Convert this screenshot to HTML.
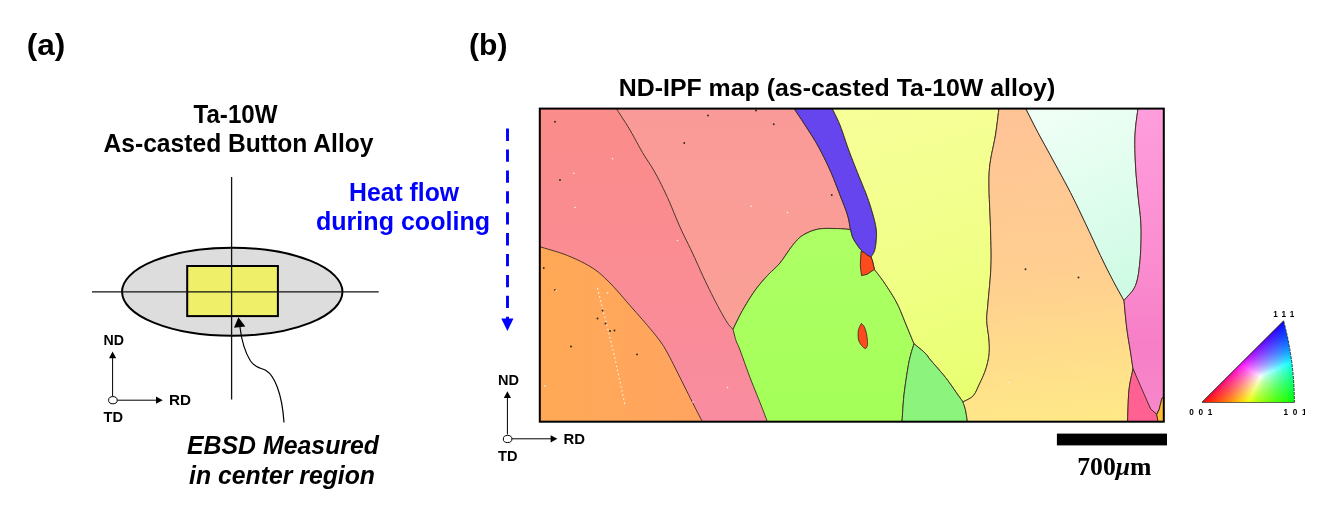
<!DOCTYPE html>
<html lang="en">
<head>
<meta charset="utf-8">
<title>Ta-10W as-casted button alloy EBSD figure</title>
<style>
html,body{margin:0;padding:0;background:#fff;}
body{width:1333px;height:512px;overflow:hidden;}
svg{display:block;}
text{font-family:"Liberation Sans",Arial,sans-serif;font-weight:bold;fill:#000;}
.ser{font-family:"Liberation Serif","DejaVu Serif",serif;}
</style>
</head>
<body>
<svg width="1333" height="512" viewBox="0 0 1333 512">
<defs>
<clipPath id="mapclip"><rect x="539.8" y="108.6" width="624" height="313.1"/></clipPath>
<linearGradient id="gP1" gradientUnits="userSpaceOnUse" x1="0" y1="108" x2="0" y2="422"><stop offset="0" stop-color="#FA8C8A"/><stop offset="0.45" stop-color="#FA8C92"/><stop offset="1" stop-color="#F98CA0"/></linearGradient>
<linearGradient id="gP2" gradientUnits="userSpaceOnUse" x1="0" y1="108" x2="0" y2="330"><stop offset="0" stop-color="#FA9A98"/><stop offset="1" stop-color="#FAA096"/></linearGradient>
<linearGradient id="gG1" gradientUnits="userSpaceOnUse" x1="0" y1="228" x2="0" y2="422"><stop offset="0" stop-color="#AEFF66"/><stop offset="1" stop-color="#A4FF58"/></linearGradient>
<linearGradient id="gO1" x1="0" y1="0" x2="1" y2="0"><stop offset="0" stop-color="#FFA956"/><stop offset="1" stop-color="#FFA460"/></linearGradient>
<linearGradient id="gY" gradientUnits="userSpaceOnUse" x1="880" y1="110" x2="960" y2="400"><stop offset="0" stop-color="#F6FF98"/><stop offset="0.5" stop-color="#F1FF88"/><stop offset="1" stop-color="#E8FF70"/></linearGradient>
<linearGradient id="gO2" gradientUnits="userSpaceOnUse" x1="1030" y1="120" x2="1060" y2="420"><stop offset="0" stop-color="#FFC496"/><stop offset="0.5" stop-color="#FFCE90"/><stop offset="1" stop-color="#FFE888"/></linearGradient>
<linearGradient id="gPA" gradientUnits="userSpaceOnUse" x1="1050" y1="110" x2="1130" y2="290"><stop offset="0" stop-color="#F0FFF6"/><stop offset="1" stop-color="#CEFBE4"/></linearGradient>
<linearGradient id="gK" gradientUnits="userSpaceOnUse" x1="0" y1="108" x2="0" y2="422"><stop offset="0" stop-color="#FF9EDC"/><stop offset="0.5" stop-color="#FB8CD0"/><stop offset="0.75" stop-color="#F67EC6"/><stop offset="1" stop-color="#F888CC"/></linearGradient>
<clipPath id="triclip"><path d="M1202,402.6 L1283.62,320.9 A315.4,315.4 0 0 1 1294.37,402.6 Z"/></clipPath>
<clipPath id="lblclip"><rect x="1180" y="300" width="125" height="130"/></clipPath>
<linearGradient id="q0" gradientUnits="userSpaceOnUse" x1="1282.8" y1="0" x2="1283.8" y2="0"><stop offset="0.00" stop-color="#0600ff"/><stop offset="0.08" stop-color="#0601ff"/><stop offset="0.17" stop-color="#0602ff"/><stop offset="0.25" stop-color="#0502ff"/><stop offset="0.33" stop-color="#0503ff"/><stop offset="0.42" stop-color="#0403ff"/><stop offset="0.50" stop-color="#0404ff"/><stop offset="0.58" stop-color="#0304ff"/><stop offset="0.67" stop-color="#0305ff"/><stop offset="0.75" stop-color="#0205ff"/><stop offset="0.83" stop-color="#0206ff"/><stop offset="0.92" stop-color="#0106ff"/><stop offset="1.00" stop-color="#0007ff"/></linearGradient>
<linearGradient id="q1" gradientUnits="userSpaceOnUse" x1="1281.8" y1="0" x2="1284.1" y2="0"><stop offset="0.00" stop-color="#0c00ff"/><stop offset="0.08" stop-color="#0c02ff"/><stop offset="0.17" stop-color="#0b03ff"/><stop offset="0.25" stop-color="#0a04ff"/><stop offset="0.33" stop-color="#0905ff"/><stop offset="0.42" stop-color="#0806ff"/><stop offset="0.50" stop-color="#0707ff"/><stop offset="0.58" stop-color="#0608ff"/><stop offset="0.67" stop-color="#0509ff"/><stop offset="0.75" stop-color="#040aff"/><stop offset="0.83" stop-color="#030bff"/><stop offset="0.92" stop-color="#020cff"/><stop offset="1.00" stop-color="#000dff"/></linearGradient>
<linearGradient id="q2" gradientUnits="userSpaceOnUse" x1="1280.8" y1="0" x2="1284.4" y2="0"><stop offset="0.00" stop-color="#1200ff"/><stop offset="0.08" stop-color="#1002ff"/><stop offset="0.17" stop-color="#0f04ff"/><stop offset="0.25" stop-color="#0e06ff"/><stop offset="0.33" stop-color="#0d08ff"/><stop offset="0.42" stop-color="#0c09ff"/><stop offset="0.50" stop-color="#0a0aff"/><stop offset="0.58" stop-color="#090cff"/><stop offset="0.67" stop-color="#070dff"/><stop offset="0.75" stop-color="#060eff"/><stop offset="0.83" stop-color="#0410ff"/><stop offset="0.92" stop-color="#0211ff"/><stop offset="1.00" stop-color="#0012ff"/></linearGradient>
<linearGradient id="q3" gradientUnits="userSpaceOnUse" x1="1279.8" y1="0" x2="1284.6" y2="0"><stop offset="0.00" stop-color="#1700ff"/><stop offset="0.08" stop-color="#1503ff"/><stop offset="0.17" stop-color="#1406ff"/><stop offset="0.25" stop-color="#1208ff"/><stop offset="0.33" stop-color="#100aff"/><stop offset="0.42" stop-color="#0f0cff"/><stop offset="0.50" stop-color="#0d0dff"/><stop offset="0.58" stop-color="#0b0fff"/><stop offset="0.67" stop-color="#0911ff"/><stop offset="0.75" stop-color="#0813ff"/><stop offset="0.83" stop-color="#0514ff"/><stop offset="0.92" stop-color="#0316ff"/><stop offset="1.00" stop-color="#0017ff"/></linearGradient>
<linearGradient id="q4" gradientUnits="userSpaceOnUse" x1="1278.8" y1="0" x2="1284.9" y2="0"><stop offset="0.00" stop-color="#1c00ff"/><stop offset="0.08" stop-color="#1a04ff"/><stop offset="0.17" stop-color="#1807ff"/><stop offset="0.25" stop-color="#1609ff"/><stop offset="0.33" stop-color="#140cff"/><stop offset="0.42" stop-color="#120eff"/><stop offset="0.50" stop-color="#1010ff"/><stop offset="0.58" stop-color="#0e13ff"/><stop offset="0.67" stop-color="#0c15ff"/><stop offset="0.75" stop-color="#0917ff"/><stop offset="0.83" stop-color="#0719ff"/><stop offset="0.92" stop-color="#041bff"/><stop offset="1.00" stop-color="#001cff"/></linearGradient>
<linearGradient id="q5" gradientUnits="userSpaceOnUse" x1="1277.8" y1="0" x2="1285.1" y2="0"><stop offset="0.00" stop-color="#2000ff"/><stop offset="0.08" stop-color="#1e05ff"/><stop offset="0.17" stop-color="#1c08ff"/><stop offset="0.25" stop-color="#1a0bff"/><stop offset="0.33" stop-color="#170eff"/><stop offset="0.42" stop-color="#1511ff"/><stop offset="0.50" stop-color="#1313ff"/><stop offset="0.58" stop-color="#1016ff"/><stop offset="0.67" stop-color="#0e18ff"/><stop offset="0.75" stop-color="#0b1bff"/><stop offset="0.83" stop-color="#081dff"/><stop offset="0.92" stop-color="#041fff"/><stop offset="1.00" stop-color="#0021ff"/></linearGradient>
<linearGradient id="q6" gradientUnits="userSpaceOnUse" x1="1276.8" y1="0" x2="1285.4" y2="0"><stop offset="0.00" stop-color="#2500ff"/><stop offset="0.08" stop-color="#2305ff"/><stop offset="0.17" stop-color="#2009ff"/><stop offset="0.25" stop-color="#1d0dff"/><stop offset="0.33" stop-color="#1b10ff"/><stop offset="0.42" stop-color="#1813ff"/><stop offset="0.50" stop-color="#1516ff"/><stop offset="0.58" stop-color="#1219ff"/><stop offset="0.67" stop-color="#0f1cff"/><stop offset="0.75" stop-color="#0c1eff"/><stop offset="0.83" stop-color="#0921ff"/><stop offset="0.92" stop-color="#0524ff"/><stop offset="1.00" stop-color="#0026ff"/></linearGradient>
<linearGradient id="q7" gradientUnits="userSpaceOnUse" x1="1275.8" y1="0" x2="1285.6" y2="0"><stop offset="0.00" stop-color="#2a00ff"/><stop offset="0.08" stop-color="#2706ff"/><stop offset="0.17" stop-color="#240aff"/><stop offset="0.25" stop-color="#210eff"/><stop offset="0.33" stop-color="#1e12ff"/><stop offset="0.42" stop-color="#1b15ff"/><stop offset="0.50" stop-color="#1819ff"/><stop offset="0.58" stop-color="#151cff"/><stop offset="0.67" stop-color="#111fff"/><stop offset="0.75" stop-color="#0e22ff"/><stop offset="0.83" stop-color="#0a25ff"/><stop offset="0.92" stop-color="#0628ff"/><stop offset="1.00" stop-color="#002bff"/></linearGradient>
<linearGradient id="q8" gradientUnits="userSpaceOnUse" x1="1274.8" y1="0" x2="1285.9" y2="0"><stop offset="0.00" stop-color="#2e00ff"/><stop offset="0.08" stop-color="#2b07ff"/><stop offset="0.17" stop-color="#280bff"/><stop offset="0.25" stop-color="#2510ff"/><stop offset="0.33" stop-color="#2214ff"/><stop offset="0.42" stop-color="#1e18ff"/><stop offset="0.50" stop-color="#1b1cff"/><stop offset="0.58" stop-color="#171fff"/><stop offset="0.67" stop-color="#1323ff"/><stop offset="0.75" stop-color="#0f26ff"/><stop offset="0.83" stop-color="#0b29ff"/><stop offset="0.92" stop-color="#062dff"/><stop offset="1.00" stop-color="#0030ff"/></linearGradient>
<linearGradient id="q9" gradientUnits="userSpaceOnUse" x1="1273.8" y1="0" x2="1286.1" y2="0"><stop offset="0.00" stop-color="#3300ff"/><stop offset="0.08" stop-color="#3007ff"/><stop offset="0.17" stop-color="#2c0dff"/><stop offset="0.25" stop-color="#2911ff"/><stop offset="0.33" stop-color="#2516ff"/><stop offset="0.42" stop-color="#211aff"/><stop offset="0.50" stop-color="#1d1eff"/><stop offset="0.58" stop-color="#1922ff"/><stop offset="0.67" stop-color="#1526ff"/><stop offset="0.75" stop-color="#112aff"/><stop offset="0.83" stop-color="#0c2eff"/><stop offset="0.92" stop-color="#0731ff"/><stop offset="1.00" stop-color="#0035ff"/></linearGradient>
<linearGradient id="q10" gradientUnits="userSpaceOnUse" x1="1272.8" y1="0" x2="1286.3" y2="0"><stop offset="0.00" stop-color="#3700ff"/><stop offset="0.08" stop-color="#3408ff"/><stop offset="0.17" stop-color="#300eff"/><stop offset="0.25" stop-color="#2c13ff"/><stop offset="0.33" stop-color="#2818ff"/><stop offset="0.42" stop-color="#241dff"/><stop offset="0.50" stop-color="#2021ff"/><stop offset="0.58" stop-color="#1c25ff"/><stop offset="0.67" stop-color="#172aff"/><stop offset="0.75" stop-color="#132eff"/><stop offset="0.83" stop-color="#0d32ff"/><stop offset="0.92" stop-color="#0836ff"/><stop offset="1.00" stop-color="#003aff"/></linearGradient>
<linearGradient id="q11" gradientUnits="userSpaceOnUse" x1="1271.8" y1="0" x2="1286.5" y2="0"><stop offset="0.00" stop-color="#3c00ff"/><stop offset="0.08" stop-color="#3809ff"/><stop offset="0.17" stop-color="#340fff"/><stop offset="0.25" stop-color="#3015ff"/><stop offset="0.33" stop-color="#2c1aff"/><stop offset="0.42" stop-color="#271fff"/><stop offset="0.50" stop-color="#2324ff"/><stop offset="0.58" stop-color="#1e29ff"/><stop offset="0.67" stop-color="#192dff"/><stop offset="0.75" stop-color="#1432ff"/><stop offset="0.83" stop-color="#0f36ff"/><stop offset="0.92" stop-color="#083aff"/><stop offset="1.00" stop-color="#003fff"/></linearGradient>
<linearGradient id="q12" gradientUnits="userSpaceOnUse" x1="1270.8" y1="0" x2="1286.8" y2="0"><stop offset="0.00" stop-color="#4100ff"/><stop offset="0.08" stop-color="#3c09ff"/><stop offset="0.17" stop-color="#3810ff"/><stop offset="0.25" stop-color="#3416ff"/><stop offset="0.33" stop-color="#2f1cff"/><stop offset="0.42" stop-color="#2a21ff"/><stop offset="0.50" stop-color="#2627ff"/><stop offset="0.58" stop-color="#212cff"/><stop offset="0.67" stop-color="#1b31ff"/><stop offset="0.75" stop-color="#1636ff"/><stop offset="0.83" stop-color="#103aff"/><stop offset="0.92" stop-color="#093fff"/><stop offset="1.00" stop-color="#0043ff"/></linearGradient>
<linearGradient id="q13" gradientUnits="userSpaceOnUse" x1="1269.8" y1="0" x2="1287.0" y2="0"><stop offset="0.00" stop-color="#4500ff"/><stop offset="0.08" stop-color="#410aff"/><stop offset="0.17" stop-color="#3c11ff"/><stop offset="0.25" stop-color="#3718ff"/><stop offset="0.33" stop-color="#331eff"/><stop offset="0.42" stop-color="#2e24ff"/><stop offset="0.50" stop-color="#282aff"/><stop offset="0.58" stop-color="#232fff"/><stop offset="0.67" stop-color="#1d34ff"/><stop offset="0.75" stop-color="#1739ff"/><stop offset="0.83" stop-color="#113fff"/><stop offset="0.92" stop-color="#0a43ff"/><stop offset="1.00" stop-color="#0048ff"/></linearGradient>
<linearGradient id="q14" gradientUnits="userSpaceOnUse" x1="1268.8" y1="0" x2="1287.2" y2="0"><stop offset="0.00" stop-color="#4a00ff"/><stop offset="0.08" stop-color="#450bff"/><stop offset="0.17" stop-color="#4012ff"/><stop offset="0.25" stop-color="#3b1aff"/><stop offset="0.33" stop-color="#3620ff"/><stop offset="0.42" stop-color="#3126ff"/><stop offset="0.50" stop-color="#2b2cff"/><stop offset="0.58" stop-color="#2532ff"/><stop offset="0.67" stop-color="#1f38ff"/><stop offset="0.75" stop-color="#193dff"/><stop offset="0.83" stop-color="#1243ff"/><stop offset="0.92" stop-color="#0a48ff"/><stop offset="1.00" stop-color="#004dff"/></linearGradient>
<linearGradient id="q15" gradientUnits="userSpaceOnUse" x1="1267.8" y1="0" x2="1287.4" y2="0"><stop offset="0.00" stop-color="#4f00ff"/><stop offset="0.08" stop-color="#4a0bff"/><stop offset="0.17" stop-color="#4414ff"/><stop offset="0.25" stop-color="#3f1bff"/><stop offset="0.33" stop-color="#3a22ff"/><stop offset="0.42" stop-color="#3429ff"/><stop offset="0.50" stop-color="#2e2fff"/><stop offset="0.58" stop-color="#2836ff"/><stop offset="0.67" stop-color="#213cff"/><stop offset="0.75" stop-color="#1b41ff"/><stop offset="0.83" stop-color="#1347ff"/><stop offset="0.92" stop-color="#0b4dff"/><stop offset="1.00" stop-color="#0052ff"/></linearGradient>
<linearGradient id="q16" gradientUnits="userSpaceOnUse" x1="1266.8" y1="0" x2="1287.6" y2="0"><stop offset="0.00" stop-color="#5400ff"/><stop offset="0.08" stop-color="#4e0cff"/><stop offset="0.17" stop-color="#4915ff"/><stop offset="0.25" stop-color="#431dff"/><stop offset="0.33" stop-color="#3d24ff"/><stop offset="0.42" stop-color="#372bff"/><stop offset="0.50" stop-color="#3132ff"/><stop offset="0.58" stop-color="#2a39ff"/><stop offset="0.67" stop-color="#233fff"/><stop offset="0.75" stop-color="#1c46ff"/><stop offset="0.83" stop-color="#144cff"/><stop offset="0.92" stop-color="#0c52ff"/><stop offset="1.00" stop-color="#0057ff"/></linearGradient>
<linearGradient id="q17" gradientUnits="userSpaceOnUse" x1="1265.8" y1="0" x2="1287.8" y2="0"><stop offset="0.00" stop-color="#5900ff"/><stop offset="0.08" stop-color="#530dff"/><stop offset="0.17" stop-color="#4d16ff"/><stop offset="0.25" stop-color="#471fff"/><stop offset="0.33" stop-color="#4126ff"/><stop offset="0.42" stop-color="#3a2eff"/><stop offset="0.50" stop-color="#3435ff"/><stop offset="0.58" stop-color="#2d3cff"/><stop offset="0.67" stop-color="#2543ff"/><stop offset="0.75" stop-color="#1e4aff"/><stop offset="0.83" stop-color="#1650ff"/><stop offset="0.92" stop-color="#0c56ff"/><stop offset="1.00" stop-color="#005dff"/></linearGradient>
<linearGradient id="q18" gradientUnits="userSpaceOnUse" x1="1264.8" y1="0" x2="1288.1" y2="0"><stop offset="0.00" stop-color="#5d00ff"/><stop offset="0.08" stop-color="#570dff"/><stop offset="0.17" stop-color="#5117ff"/><stop offset="0.25" stop-color="#4b20ff"/><stop offset="0.33" stop-color="#4429ff"/><stop offset="0.42" stop-color="#3e31ff"/><stop offset="0.50" stop-color="#3738ff"/><stop offset="0.58" stop-color="#2f40ff"/><stop offset="0.67" stop-color="#2847ff"/><stop offset="0.75" stop-color="#204eff"/><stop offset="0.83" stop-color="#1755ff"/><stop offset="0.92" stop-color="#0d5bff"/><stop offset="1.00" stop-color="#0062ff"/></linearGradient>
<linearGradient id="q19" gradientUnits="userSpaceOnUse" x1="1263.8" y1="0" x2="1288.3" y2="0"><stop offset="0.00" stop-color="#6200ff"/><stop offset="0.08" stop-color="#5c0eff"/><stop offset="0.17" stop-color="#5619ff"/><stop offset="0.25" stop-color="#4f22ff"/><stop offset="0.33" stop-color="#482bff"/><stop offset="0.42" stop-color="#4133ff"/><stop offset="0.50" stop-color="#393bff"/><stop offset="0.58" stop-color="#3243ff"/><stop offset="0.67" stop-color="#2a4bff"/><stop offset="0.75" stop-color="#2152ff"/><stop offset="0.83" stop-color="#1859ff"/><stop offset="0.92" stop-color="#0e60ff"/><stop offset="1.00" stop-color="#0067ff"/></linearGradient>
<linearGradient id="q20" gradientUnits="userSpaceOnUse" x1="1262.8" y1="0" x2="1288.5" y2="0"><stop offset="0.00" stop-color="#6800ff"/><stop offset="0.08" stop-color="#610fff"/><stop offset="0.17" stop-color="#5a1aff"/><stop offset="0.25" stop-color="#5324ff"/><stop offset="0.33" stop-color="#4c2dff"/><stop offset="0.42" stop-color="#4436ff"/><stop offset="0.50" stop-color="#3c3eff"/><stop offset="0.58" stop-color="#3447ff"/><stop offset="0.67" stop-color="#2c4fff"/><stop offset="0.75" stop-color="#2356ff"/><stop offset="0.83" stop-color="#195eff"/><stop offset="0.92" stop-color="#0f65ff"/><stop offset="1.00" stop-color="#006dff"/></linearGradient>
<linearGradient id="q21" gradientUnits="userSpaceOnUse" x1="1261.8" y1="0" x2="1288.6" y2="0"><stop offset="0.00" stop-color="#6d00ff"/><stop offset="0.08" stop-color="#6610ff"/><stop offset="0.17" stop-color="#5e1bff"/><stop offset="0.25" stop-color="#5726ff"/><stop offset="0.33" stop-color="#502fff"/><stop offset="0.42" stop-color="#4839ff"/><stop offset="0.50" stop-color="#4042ff"/><stop offset="0.58" stop-color="#374aff"/><stop offset="0.67" stop-color="#2e53ff"/><stop offset="0.75" stop-color="#255bff"/><stop offset="0.83" stop-color="#1b63ff"/><stop offset="0.92" stop-color="#0f6bff"/><stop offset="1.00" stop-color="#0072ff"/></linearGradient>
<linearGradient id="q22" gradientUnits="userSpaceOnUse" x1="1260.8" y1="0" x2="1288.8" y2="0"><stop offset="0.00" stop-color="#7200ff"/><stop offset="0.08" stop-color="#6b10ff"/><stop offset="0.17" stop-color="#631dff"/><stop offset="0.25" stop-color="#5b28ff"/><stop offset="0.33" stop-color="#5332ff"/><stop offset="0.42" stop-color="#4b3cff"/><stop offset="0.50" stop-color="#4345ff"/><stop offset="0.58" stop-color="#3a4eff"/><stop offset="0.67" stop-color="#3057ff"/><stop offset="0.75" stop-color="#275fff"/><stop offset="0.83" stop-color="#1c68ff"/><stop offset="0.92" stop-color="#1070ff"/><stop offset="1.00" stop-color="#0078ff"/></linearGradient>
<linearGradient id="q23" gradientUnits="userSpaceOnUse" x1="1259.8" y1="0" x2="1289.0" y2="0"><stop offset="0.00" stop-color="#7700ff"/><stop offset="0.08" stop-color="#7011ff"/><stop offset="0.17" stop-color="#681eff"/><stop offset="0.25" stop-color="#6029ff"/><stop offset="0.33" stop-color="#5734ff"/><stop offset="0.42" stop-color="#4f3eff"/><stop offset="0.50" stop-color="#4648ff"/><stop offset="0.58" stop-color="#3d52ff"/><stop offset="0.67" stop-color="#335bff"/><stop offset="0.75" stop-color="#2964ff"/><stop offset="0.83" stop-color="#1d6dff"/><stop offset="0.92" stop-color="#1175ff"/><stop offset="1.00" stop-color="#007eff"/></linearGradient>
<linearGradient id="q24" gradientUnits="userSpaceOnUse" x1="1258.8" y1="0" x2="1289.2" y2="0"><stop offset="0.00" stop-color="#7d00ff"/><stop offset="0.08" stop-color="#7512ff"/><stop offset="0.17" stop-color="#6d1fff"/><stop offset="0.25" stop-color="#642bff"/><stop offset="0.33" stop-color="#5b37ff"/><stop offset="0.42" stop-color="#5241ff"/><stop offset="0.50" stop-color="#494cff"/><stop offset="0.58" stop-color="#3f55ff"/><stop offset="0.67" stop-color="#355fff"/><stop offset="0.75" stop-color="#2a68ff"/><stop offset="0.83" stop-color="#1f72ff"/><stop offset="0.92" stop-color="#127bff"/><stop offset="1.00" stop-color="#0084ff"/></linearGradient>
<linearGradient id="q25" gradientUnits="userSpaceOnUse" x1="1257.8" y1="0" x2="1289.4" y2="0"><stop offset="0.00" stop-color="#8200ff"/><stop offset="0.08" stop-color="#7a13ff"/><stop offset="0.17" stop-color="#7121ff"/><stop offset="0.25" stop-color="#692dff"/><stop offset="0.33" stop-color="#6039ff"/><stop offset="0.42" stop-color="#5644ff"/><stop offset="0.50" stop-color="#4c4fff"/><stop offset="0.58" stop-color="#4259ff"/><stop offset="0.67" stop-color="#3863ff"/><stop offset="0.75" stop-color="#2c6dff"/><stop offset="0.83" stop-color="#2077ff"/><stop offset="0.92" stop-color="#1380ff"/><stop offset="1.00" stop-color="#008aff"/></linearGradient>
<linearGradient id="q26" gradientUnits="userSpaceOnUse" x1="1256.8" y1="0" x2="1289.6" y2="0"><stop offset="0.00" stop-color="#8800ff"/><stop offset="0.08" stop-color="#7f14ff"/><stop offset="0.17" stop-color="#7622ff"/><stop offset="0.25" stop-color="#6d2fff"/><stop offset="0.33" stop-color="#643cff"/><stop offset="0.42" stop-color="#5a47ff"/><stop offset="0.50" stop-color="#5053ff"/><stop offset="0.58" stop-color="#455dff"/><stop offset="0.67" stop-color="#3a68ff"/><stop offset="0.75" stop-color="#2e72ff"/><stop offset="0.83" stop-color="#227cff"/><stop offset="0.92" stop-color="#1386ff"/><stop offset="1.00" stop-color="#0090ff"/></linearGradient>
<linearGradient id="q27" gradientUnits="userSpaceOnUse" x1="1255.8" y1="0" x2="1289.7" y2="0"><stop offset="0.00" stop-color="#8e00ff"/><stop offset="0.08" stop-color="#8515ff"/><stop offset="0.17" stop-color="#7b24ff"/><stop offset="0.25" stop-color="#7231ff"/><stop offset="0.33" stop-color="#683eff"/><stop offset="0.42" stop-color="#5e4aff"/><stop offset="0.50" stop-color="#5356ff"/><stop offset="0.58" stop-color="#4861ff"/><stop offset="0.67" stop-color="#3d6cff"/><stop offset="0.75" stop-color="#3077ff"/><stop offset="0.83" stop-color="#2382ff"/><stop offset="0.92" stop-color="#148cff"/><stop offset="1.00" stop-color="#0096ff"/></linearGradient>
<linearGradient id="q28" gradientUnits="userSpaceOnUse" x1="1254.8" y1="0" x2="1289.9" y2="0"><stop offset="0.00" stop-color="#9400ff"/><stop offset="0.08" stop-color="#8a15ff"/><stop offset="0.17" stop-color="#8125ff"/><stop offset="0.25" stop-color="#7734ff"/><stop offset="0.33" stop-color="#6c41ff"/><stop offset="0.42" stop-color="#624eff"/><stop offset="0.50" stop-color="#575aff"/><stop offset="0.58" stop-color="#4b66ff"/><stop offset="0.67" stop-color="#3f71ff"/><stop offset="0.75" stop-color="#327cff"/><stop offset="0.83" stop-color="#2587ff"/><stop offset="0.92" stop-color="#1592ff"/><stop offset="1.00" stop-color="#009cff"/></linearGradient>
<linearGradient id="q29" gradientUnits="userSpaceOnUse" x1="1253.8" y1="0" x2="1290.1" y2="0"><stop offset="0.00" stop-color="#9a00ff"/><stop offset="0.08" stop-color="#9016ff"/><stop offset="0.17" stop-color="#8627ff"/><stop offset="0.25" stop-color="#7c36ff"/><stop offset="0.33" stop-color="#7144ff"/><stop offset="0.42" stop-color="#6651ff"/><stop offset="0.50" stop-color="#5a5eff"/><stop offset="0.58" stop-color="#4f6aff"/><stop offset="0.67" stop-color="#4276ff"/><stop offset="0.75" stop-color="#3582ff"/><stop offset="0.83" stop-color="#268dff"/><stop offset="0.92" stop-color="#1698ff"/><stop offset="1.00" stop-color="#00a3ff"/></linearGradient>
<linearGradient id="q30" gradientUnits="userSpaceOnUse" x1="1252.8" y1="0" x2="1290.3" y2="0"><stop offset="0.00" stop-color="#a000ff"/><stop offset="0.08" stop-color="#9617ff"/><stop offset="0.17" stop-color="#8b29ff"/><stop offset="0.25" stop-color="#8138ff"/><stop offset="0.33" stop-color="#7647ff"/><stop offset="0.42" stop-color="#6a54ff"/><stop offset="0.50" stop-color="#5e62ff"/><stop offset="0.58" stop-color="#526eff"/><stop offset="0.67" stop-color="#457bff"/><stop offset="0.75" stop-color="#3787ff"/><stop offset="0.83" stop-color="#2893ff"/><stop offset="0.92" stop-color="#179eff"/><stop offset="1.00" stop-color="#00aaff"/></linearGradient>
<linearGradient id="q31" gradientUnits="userSpaceOnUse" x1="1251.8" y1="0" x2="1290.4" y2="0"><stop offset="0.00" stop-color="#a600ff"/><stop offset="0.08" stop-color="#9c18ff"/><stop offset="0.17" stop-color="#912aff"/><stop offset="0.25" stop-color="#863aff"/><stop offset="0.33" stop-color="#7a49ff"/><stop offset="0.42" stop-color="#6e58ff"/><stop offset="0.50" stop-color="#6266ff"/><stop offset="0.58" stop-color="#5573ff"/><stop offset="0.67" stop-color="#4880ff"/><stop offset="0.75" stop-color="#398dff"/><stop offset="0.83" stop-color="#2999ff"/><stop offset="0.92" stop-color="#18a5ff"/><stop offset="1.00" stop-color="#00b1ff"/></linearGradient>
<linearGradient id="q32" gradientUnits="userSpaceOnUse" x1="1250.8" y1="0" x2="1290.6" y2="0"><stop offset="0.00" stop-color="#ad00ff"/><stop offset="0.08" stop-color="#a219ff"/><stop offset="0.17" stop-color="#972cff"/><stop offset="0.25" stop-color="#8b3dff"/><stop offset="0.33" stop-color="#7f4cff"/><stop offset="0.42" stop-color="#735bff"/><stop offset="0.50" stop-color="#666aff"/><stop offset="0.58" stop-color="#5978ff"/><stop offset="0.67" stop-color="#4a85ff"/><stop offset="0.75" stop-color="#3b92ff"/><stop offset="0.83" stop-color="#2b9fff"/><stop offset="0.92" stop-color="#19acff"/><stop offset="1.00" stop-color="#00b8ff"/></linearGradient>
<linearGradient id="q33" gradientUnits="userSpaceOnUse" x1="1249.8" y1="0" x2="1290.7" y2="0"><stop offset="0.00" stop-color="#b400ff"/><stop offset="0.08" stop-color="#a81aff"/><stop offset="0.17" stop-color="#9d2eff"/><stop offset="0.25" stop-color="#913fff"/><stop offset="0.33" stop-color="#8450ff"/><stop offset="0.42" stop-color="#775fff"/><stop offset="0.50" stop-color="#6a6eff"/><stop offset="0.58" stop-color="#5c7cff"/><stop offset="0.67" stop-color="#4d8aff"/><stop offset="0.75" stop-color="#3e98ff"/><stop offset="0.83" stop-color="#2da6ff"/><stop offset="0.92" stop-color="#1ab3ff"/><stop offset="1.00" stop-color="#00bfff"/></linearGradient>
<linearGradient id="q34" gradientUnits="userSpaceOnUse" x1="1248.8" y1="0" x2="1290.9" y2="0"><stop offset="0.00" stop-color="#bb00ff"/><stop offset="0.08" stop-color="#af1bff"/><stop offset="0.17" stop-color="#a32fff"/><stop offset="0.25" stop-color="#9642ff"/><stop offset="0.33" stop-color="#8a53ff"/><stop offset="0.42" stop-color="#7c63ff"/><stop offset="0.50" stop-color="#6e72ff"/><stop offset="0.58" stop-color="#6081ff"/><stop offset="0.67" stop-color="#5090ff"/><stop offset="0.75" stop-color="#409eff"/><stop offset="0.83" stop-color="#2facff"/><stop offset="0.92" stop-color="#1bbaff"/><stop offset="1.00" stop-color="#00c7ff"/></linearGradient>
<linearGradient id="q35" gradientUnits="userSpaceOnUse" x1="1247.8" y1="0" x2="1291.0" y2="0"><stop offset="0.00" stop-color="#c200ff"/><stop offset="0.08" stop-color="#b61cff"/><stop offset="0.17" stop-color="#a931ff"/><stop offset="0.25" stop-color="#9c44ff"/><stop offset="0.33" stop-color="#8f56ff"/><stop offset="0.42" stop-color="#8167ff"/><stop offset="0.50" stop-color="#7377ff"/><stop offset="0.58" stop-color="#6487ff"/><stop offset="0.67" stop-color="#5496ff"/><stop offset="0.75" stop-color="#43a4ff"/><stop offset="0.83" stop-color="#31b3ff"/><stop offset="0.92" stop-color="#1cc1ff"/><stop offset="1.00" stop-color="#00cfff"/></linearGradient>
<linearGradient id="q36" gradientUnits="userSpaceOnUse" x1="1246.8" y1="0" x2="1291.2" y2="0"><stop offset="0.00" stop-color="#c900ff"/><stop offset="0.08" stop-color="#bd1dff"/><stop offset="0.17" stop-color="#b033ff"/><stop offset="0.25" stop-color="#a247ff"/><stop offset="0.33" stop-color="#9459ff"/><stop offset="0.42" stop-color="#866bff"/><stop offset="0.50" stop-color="#777cff"/><stop offset="0.58" stop-color="#678cff"/><stop offset="0.67" stop-color="#579cff"/><stop offset="0.75" stop-color="#45abff"/><stop offset="0.83" stop-color="#32baff"/><stop offset="0.92" stop-color="#1dc9ff"/><stop offset="1.00" stop-color="#00d7ff"/></linearGradient>
<linearGradient id="q37" gradientUnits="userSpaceOnUse" x1="1245.8" y1="0" x2="1291.3" y2="0"><stop offset="0.00" stop-color="#d100ff"/><stop offset="0.08" stop-color="#c41fff"/><stop offset="0.17" stop-color="#b635ff"/><stop offset="0.25" stop-color="#a84aff"/><stop offset="0.33" stop-color="#9a5dff"/><stop offset="0.42" stop-color="#8b6fff"/><stop offset="0.50" stop-color="#7c80ff"/><stop offset="0.58" stop-color="#6b91ff"/><stop offset="0.67" stop-color="#5aa2ff"/><stop offset="0.75" stop-color="#48b2ff"/><stop offset="0.83" stop-color="#34c1ff"/><stop offset="0.92" stop-color="#1ed1ff"/><stop offset="1.00" stop-color="#00e0ff"/></linearGradient>
<linearGradient id="q38" gradientUnits="userSpaceOnUse" x1="1244.8" y1="0" x2="1291.5" y2="0"><stop offset="0.00" stop-color="#d900ff"/><stop offset="0.08" stop-color="#cb20ff"/><stop offset="0.17" stop-color="#bd37ff"/><stop offset="0.25" stop-color="#af4dff"/><stop offset="0.33" stop-color="#a060ff"/><stop offset="0.42" stop-color="#9173ff"/><stop offset="0.50" stop-color="#8085ff"/><stop offset="0.58" stop-color="#7097ff"/><stop offset="0.67" stop-color="#5ea8ff"/><stop offset="0.75" stop-color="#4bb9ff"/><stop offset="0.83" stop-color="#36c9ff"/><stop offset="0.92" stop-color="#1fd9ff"/><stop offset="1.00" stop-color="#00e8ff"/></linearGradient>
<linearGradient id="q39" gradientUnits="userSpaceOnUse" x1="1243.8" y1="0" x2="1291.6" y2="0"><stop offset="0.00" stop-color="#e100ff"/><stop offset="0.08" stop-color="#d321ff"/><stop offset="0.17" stop-color="#c43aff"/><stop offset="0.25" stop-color="#b650ff"/><stop offset="0.33" stop-color="#a664ff"/><stop offset="0.42" stop-color="#9678ff"/><stop offset="0.50" stop-color="#858bff"/><stop offset="0.58" stop-color="#749dff"/><stop offset="0.67" stop-color="#61aeff"/><stop offset="0.75" stop-color="#4ec0ff"/><stop offset="0.83" stop-color="#39d1ff"/><stop offset="0.92" stop-color="#21e1ff"/><stop offset="1.00" stop-color="#00f1ff"/></linearGradient>
<linearGradient id="q40" gradientUnits="userSpaceOnUse" x1="1242.8" y1="0" x2="1291.7" y2="0"><stop offset="0.00" stop-color="#e900ff"/><stop offset="0.08" stop-color="#db22ff"/><stop offset="0.17" stop-color="#cc3cff"/><stop offset="0.25" stop-color="#bc53ff"/><stop offset="0.33" stop-color="#ac68ff"/><stop offset="0.42" stop-color="#9c7cff"/><stop offset="0.50" stop-color="#8b90ff"/><stop offset="0.58" stop-color="#78a3ff"/><stop offset="0.67" stop-color="#65b5ff"/><stop offset="0.75" stop-color="#51c7ff"/><stop offset="0.83" stop-color="#3bd9ff"/><stop offset="0.92" stop-color="#22eaff"/><stop offset="1.00" stop-color="#00fbff"/></linearGradient>
<linearGradient id="q41" gradientUnits="userSpaceOnUse" x1="1241.8" y1="0" x2="1291.8" y2="0"><stop offset="0.00" stop-color="#f200ff"/><stop offset="0.08" stop-color="#e324ff"/><stop offset="0.17" stop-color="#d43eff"/><stop offset="0.25" stop-color="#c456ff"/><stop offset="0.33" stop-color="#b36cff"/><stop offset="0.42" stop-color="#a281ff"/><stop offset="0.50" stop-color="#9096ff"/><stop offset="0.58" stop-color="#7da9ff"/><stop offset="0.67" stop-color="#69bcff"/><stop offset="0.75" stop-color="#54cfff"/><stop offset="0.83" stop-color="#3de1ff"/><stop offset="0.92" stop-color="#23f3ff"/><stop offset="1.00" stop-color="#00fffa"/></linearGradient>
<linearGradient id="q42" gradientUnits="userSpaceOnUse" x1="1240.8" y1="0" x2="1292.0" y2="0"><stop offset="0.00" stop-color="#fb00ff"/><stop offset="0.08" stop-color="#ec25ff"/><stop offset="0.17" stop-color="#dc41ff"/><stop offset="0.25" stop-color="#cb59ff"/><stop offset="0.33" stop-color="#ba70ff"/><stop offset="0.42" stop-color="#a886ff"/><stop offset="0.50" stop-color="#959bff"/><stop offset="0.58" stop-color="#82b0ff"/><stop offset="0.67" stop-color="#6dc4ff"/><stop offset="0.75" stop-color="#57d7ff"/><stop offset="0.83" stop-color="#3feaff"/><stop offset="0.92" stop-color="#25fcff"/><stop offset="1.00" stop-color="#00fff0"/></linearGradient>
<linearGradient id="q43" gradientUnits="userSpaceOnUse" x1="1239.8" y1="0" x2="1292.1" y2="0"><stop offset="0.00" stop-color="#ff00f9"/><stop offset="0.08" stop-color="#f527ff"/><stop offset="0.17" stop-color="#e443ff"/><stop offset="0.25" stop-color="#d35dff"/><stop offset="0.33" stop-color="#c175ff"/><stop offset="0.42" stop-color="#ae8cff"/><stop offset="0.50" stop-color="#9ba1ff"/><stop offset="0.58" stop-color="#87b7ff"/><stop offset="0.67" stop-color="#71cbff"/><stop offset="0.75" stop-color="#5bdfff"/><stop offset="0.83" stop-color="#42f3ff"/><stop offset="0.92" stop-color="#25fff8"/><stop offset="1.00" stop-color="#00ffe7"/></linearGradient>
<linearGradient id="q44" gradientUnits="userSpaceOnUse" x1="1238.8" y1="0" x2="1292.2" y2="0"><stop offset="0.00" stop-color="#ff00f0"/><stop offset="0.08" stop-color="#fe28ff"/><stop offset="0.17" stop-color="#ed46ff"/><stop offset="0.25" stop-color="#db60ff"/><stop offset="0.33" stop-color="#c879ff"/><stop offset="0.42" stop-color="#b591ff"/><stop offset="0.50" stop-color="#a1a8ff"/><stop offset="0.58" stop-color="#8cbeff"/><stop offset="0.67" stop-color="#76d3ff"/><stop offset="0.75" stop-color="#5ee8ff"/><stop offset="0.83" stop-color="#44fcff"/><stop offset="0.92" stop-color="#25ffef"/><stop offset="1.00" stop-color="#00ffdf"/></linearGradient>
<linearGradient id="q45" gradientUnits="userSpaceOnUse" x1="1237.8" y1="0" x2="1292.3" y2="0"><stop offset="0.00" stop-color="#ff00e8"/><stop offset="0.08" stop-color="#ff28f7"/><stop offset="0.17" stop-color="#f648ff"/><stop offset="0.25" stop-color="#e364ff"/><stop offset="0.33" stop-color="#d07eff"/><stop offset="0.42" stop-color="#bc97ff"/><stop offset="0.50" stop-color="#a7aeff"/><stop offset="0.58" stop-color="#92c5ff"/><stop offset="0.67" stop-color="#7adcff"/><stop offset="0.75" stop-color="#62f1ff"/><stop offset="0.83" stop-color="#45fff8"/><stop offset="0.92" stop-color="#25ffe6"/><stop offset="1.00" stop-color="#00ffd6"/></linearGradient>
<linearGradient id="q46" gradientUnits="userSpaceOnUse" x1="1236.8" y1="0" x2="1292.4" y2="0"><stop offset="0.00" stop-color="#ff00df"/><stop offset="0.08" stop-color="#ff28ee"/><stop offset="0.17" stop-color="#ff4bff"/><stop offset="0.25" stop-color="#ec68ff"/><stop offset="0.33" stop-color="#d883ff"/><stop offset="0.42" stop-color="#c49dff"/><stop offset="0.50" stop-color="#aeb5ff"/><stop offset="0.58" stop-color="#97cdff"/><stop offset="0.67" stop-color="#7fe4ff"/><stop offset="0.75" stop-color="#66fbff"/><stop offset="0.83" stop-color="#45ffee"/><stop offset="0.92" stop-color="#25ffdd"/><stop offset="1.00" stop-color="#00ffce"/></linearGradient>
<linearGradient id="q47" gradientUnits="userSpaceOnUse" x1="1235.8" y1="0" x2="1292.6" y2="0"><stop offset="0.00" stop-color="#ff00d7"/><stop offset="0.08" stop-color="#ff28e5"/><stop offset="0.17" stop-color="#ff4bf5"/><stop offset="0.25" stop-color="#f56cff"/><stop offset="0.33" stop-color="#e188ff"/><stop offset="0.42" stop-color="#cba3ff"/><stop offset="0.50" stop-color="#b5bdff"/><stop offset="0.58" stop-color="#9dd5ff"/><stop offset="0.67" stop-color="#84edff"/><stop offset="0.75" stop-color="#67fff9"/><stop offset="0.83" stop-color="#45ffe5"/><stop offset="0.92" stop-color="#25ffd4"/><stop offset="1.00" stop-color="#00ffc6"/></linearGradient>
<linearGradient id="q48" gradientUnits="userSpaceOnUse" x1="1234.8" y1="0" x2="1292.7" y2="0"><stop offset="0.00" stop-color="#ff00cf"/><stop offset="0.08" stop-color="#ff28dc"/><stop offset="0.17" stop-color="#ff4bec"/><stop offset="0.25" stop-color="#ff71ff"/><stop offset="0.33" stop-color="#ea8eff"/><stop offset="0.42" stop-color="#d3a9ff"/><stop offset="0.50" stop-color="#bcc4ff"/><stop offset="0.58" stop-color="#a4deff"/><stop offset="0.67" stop-color="#8af7ff"/><stop offset="0.75" stop-color="#67fff0"/><stop offset="0.83" stop-color="#45ffdc"/><stop offset="0.92" stop-color="#25ffcc"/><stop offset="1.00" stop-color="#00ffbe"/></linearGradient>
<linearGradient id="q49" gradientUnits="userSpaceOnUse" x1="1233.8" y1="0" x2="1292.8" y2="0"><stop offset="0.00" stop-color="#ff00c7"/><stop offset="0.08" stop-color="#ff28d4"/><stop offset="0.17" stop-color="#ff4be3"/><stop offset="0.25" stop-color="#ff71f5"/><stop offset="0.33" stop-color="#f394ff"/><stop offset="0.42" stop-color="#dcb0ff"/><stop offset="0.50" stop-color="#c4ccff"/><stop offset="0.58" stop-color="#aae7ff"/><stop offset="0.67" stop-color="#8efffd"/><stop offset="0.75" stop-color="#67ffe6"/><stop offset="0.83" stop-color="#45ffd4"/><stop offset="0.92" stop-color="#25ffc4"/><stop offset="1.00" stop-color="#00ffb7"/></linearGradient>
<linearGradient id="q50" gradientUnits="userSpaceOnUse" x1="1232.8" y1="0" x2="1292.9" y2="0"><stop offset="0.00" stop-color="#ff00bf"/><stop offset="0.08" stop-color="#ff28cc"/><stop offset="0.17" stop-color="#ff4bda"/><stop offset="0.25" stop-color="#ff71ec"/><stop offset="0.33" stop-color="#fd9aff"/><stop offset="0.42" stop-color="#e5b8ff"/><stop offset="0.50" stop-color="#ccd4ff"/><stop offset="0.58" stop-color="#b1f0ff"/><stop offset="0.67" stop-color="#8efff3"/><stop offset="0.75" stop-color="#67ffdd"/><stop offset="0.83" stop-color="#45ffcb"/><stop offset="0.92" stop-color="#25ffbc"/><stop offset="1.00" stop-color="#00ffb0"/></linearGradient>
<linearGradient id="q51" gradientUnits="userSpaceOnUse" x1="1231.8" y1="0" x2="1293.0" y2="0"><stop offset="0.00" stop-color="#ff00b8"/><stop offset="0.08" stop-color="#ff29c4"/><stop offset="0.17" stop-color="#ff4cd2"/><stop offset="0.25" stop-color="#ff71e2"/><stop offset="0.33" stop-color="#ff9bf7"/><stop offset="0.42" stop-color="#eebfff"/><stop offset="0.50" stop-color="#d4ddff"/><stop offset="0.58" stop-color="#b8faff"/><stop offset="0.67" stop-color="#8effe9"/><stop offset="0.75" stop-color="#67ffd4"/><stop offset="0.83" stop-color="#45ffc3"/><stop offset="0.92" stop-color="#25ffb5"/><stop offset="1.00" stop-color="#00ffa9"/></linearGradient>
<linearGradient id="q52" gradientUnits="userSpaceOnUse" x1="1230.8" y1="0" x2="1293.1" y2="0"><stop offset="0.00" stop-color="#ff00b1"/><stop offset="0.08" stop-color="#ff29bc"/><stop offset="0.17" stop-color="#ff4cc9"/><stop offset="0.25" stop-color="#ff71d9"/><stop offset="0.33" stop-color="#ff9bed"/><stop offset="0.42" stop-color="#f8c7ff"/><stop offset="0.50" stop-color="#dde7ff"/><stop offset="0.58" stop-color="#bcfff9"/><stop offset="0.67" stop-color="#8effe0"/><stop offset="0.75" stop-color="#67ffcc"/><stop offset="0.83" stop-color="#45ffbb"/><stop offset="0.92" stop-color="#25ffae"/><stop offset="1.00" stop-color="#00ffa2"/></linearGradient>
<linearGradient id="q53" gradientUnits="userSpaceOnUse" x1="1229.8" y1="0" x2="1293.1" y2="0"><stop offset="0.00" stop-color="#ff00a9"/><stop offset="0.08" stop-color="#ff29b4"/><stop offset="0.17" stop-color="#ff4cc1"/><stop offset="0.25" stop-color="#ff71d1"/><stop offset="0.33" stop-color="#ff9be4"/><stop offset="0.42" stop-color="#ffcdfc"/><stop offset="0.50" stop-color="#e6f1ff"/><stop offset="0.58" stop-color="#bcffef"/><stop offset="0.67" stop-color="#8effd7"/><stop offset="0.75" stop-color="#67ffc3"/><stop offset="0.83" stop-color="#45ffb4"/><stop offset="0.92" stop-color="#25ffa6"/><stop offset="1.00" stop-color="#00ff9b"/></linearGradient>
<linearGradient id="q54" gradientUnits="userSpaceOnUse" x1="1228.8" y1="0" x2="1293.2" y2="0"><stop offset="0.00" stop-color="#ff00a3"/><stop offset="0.08" stop-color="#ff29ad"/><stop offset="0.17" stop-color="#ff4cb9"/><stop offset="0.25" stop-color="#ff71c8"/><stop offset="0.33" stop-color="#ff9bda"/><stop offset="0.42" stop-color="#ffcdf1"/><stop offset="0.50" stop-color="#f0fbff"/><stop offset="0.58" stop-color="#bcffe5"/><stop offset="0.67" stop-color="#8effce"/><stop offset="0.75" stop-color="#67ffbb"/><stop offset="0.83" stop-color="#45ffac"/><stop offset="0.92" stop-color="#25ff9f"/><stop offset="1.00" stop-color="#00ff95"/></linearGradient>
<linearGradient id="q55" gradientUnits="userSpaceOnUse" x1="1227.8" y1="0" x2="1293.3" y2="0"><stop offset="0.00" stop-color="#ff009c"/><stop offset="0.08" stop-color="#ff29a6"/><stop offset="0.17" stop-color="#ff4cb2"/><stop offset="0.25" stop-color="#ff71c0"/><stop offset="0.33" stop-color="#ff9cd1"/><stop offset="0.42" stop-color="#ffcde7"/><stop offset="0.50" stop-color="#f4fff8"/><stop offset="0.58" stop-color="#bcffdb"/><stop offset="0.67" stop-color="#8effc5"/><stop offset="0.75" stop-color="#67ffb3"/><stop offset="0.83" stop-color="#45ffa5"/><stop offset="0.92" stop-color="#25ff99"/><stop offset="1.00" stop-color="#00ff8e"/></linearGradient>
<linearGradient id="q56" gradientUnits="userSpaceOnUse" x1="1226.8" y1="0" x2="1293.4" y2="0"><stop offset="0.00" stop-color="#ff0095"/><stop offset="0.08" stop-color="#ff299f"/><stop offset="0.17" stop-color="#ff4caa"/><stop offset="0.25" stop-color="#ff71b7"/><stop offset="0.33" stop-color="#ff9cc8"/><stop offset="0.42" stop-color="#ffcedd"/><stop offset="0.50" stop-color="#f4ffed"/><stop offset="0.58" stop-color="#bbffd1"/><stop offset="0.67" stop-color="#8effbc"/><stop offset="0.75" stop-color="#67ffab"/><stop offset="0.83" stop-color="#45ff9d"/><stop offset="0.92" stop-color="#25ff92"/><stop offset="1.00" stop-color="#00ff88"/></linearGradient>
<linearGradient id="q57" gradientUnits="userSpaceOnUse" x1="1225.8" y1="0" x2="1293.5" y2="0"><stop offset="0.00" stop-color="#ff008f"/><stop offset="0.08" stop-color="#ff2998"/><stop offset="0.17" stop-color="#ff4ca3"/><stop offset="0.25" stop-color="#ff72af"/><stop offset="0.33" stop-color="#ff9cbf"/><stop offset="0.42" stop-color="#ffced3"/><stop offset="0.50" stop-color="#f3ffe2"/><stop offset="0.58" stop-color="#bbffc8"/><stop offset="0.67" stop-color="#8effb4"/><stop offset="0.75" stop-color="#67ffa4"/><stop offset="0.83" stop-color="#45ff96"/><stop offset="0.92" stop-color="#25ff8b"/><stop offset="1.00" stop-color="#00ff82"/></linearGradient>
<linearGradient id="q58" gradientUnits="userSpaceOnUse" x1="1224.8" y1="0" x2="1293.5" y2="0"><stop offset="0.00" stop-color="#ff0088"/><stop offset="0.08" stop-color="#ff2991"/><stop offset="0.17" stop-color="#ff4c9b"/><stop offset="0.25" stop-color="#ff72a8"/><stop offset="0.33" stop-color="#ff9cb7"/><stop offset="0.42" stop-color="#ffceca"/><stop offset="0.50" stop-color="#f3ffd8"/><stop offset="0.58" stop-color="#bbffbf"/><stop offset="0.67" stop-color="#8effac"/><stop offset="0.75" stop-color="#67ff9c"/><stop offset="0.83" stop-color="#45ff90"/><stop offset="0.92" stop-color="#25ff85"/><stop offset="1.00" stop-color="#00ff7c"/></linearGradient>
<linearGradient id="q59" gradientUnits="userSpaceOnUse" x1="1223.8" y1="0" x2="1293.6" y2="0"><stop offset="0.00" stop-color="#ff0082"/><stop offset="0.08" stop-color="#ff298a"/><stop offset="0.17" stop-color="#ff4c94"/><stop offset="0.25" stop-color="#ff72a0"/><stop offset="0.33" stop-color="#ff9cae"/><stop offset="0.42" stop-color="#ffcec0"/><stop offset="0.50" stop-color="#f3ffce"/><stop offset="0.58" stop-color="#bbffb6"/><stop offset="0.67" stop-color="#8effa3"/><stop offset="0.75" stop-color="#67ff95"/><stop offset="0.83" stop-color="#45ff89"/><stop offset="0.92" stop-color="#25ff7f"/><stop offset="1.00" stop-color="#00ff76"/></linearGradient>
<linearGradient id="q60" gradientUnits="userSpaceOnUse" x1="1222.8" y1="0" x2="1293.7" y2="0"><stop offset="0.00" stop-color="#ff007c"/><stop offset="0.08" stop-color="#ff2984"/><stop offset="0.17" stop-color="#ff4c8d"/><stop offset="0.25" stop-color="#ff7298"/><stop offset="0.33" stop-color="#ff9ca6"/><stop offset="0.42" stop-color="#ffceb7"/><stop offset="0.50" stop-color="#f3ffc4"/><stop offset="0.58" stop-color="#bbffad"/><stop offset="0.67" stop-color="#8eff9c"/><stop offset="0.75" stop-color="#67ff8e"/><stop offset="0.83" stop-color="#45ff82"/><stop offset="0.92" stop-color="#25ff79"/><stop offset="1.00" stop-color="#00ff70"/></linearGradient>
<linearGradient id="q61" gradientUnits="userSpaceOnUse" x1="1221.8" y1="0" x2="1293.7" y2="0"><stop offset="0.00" stop-color="#ff0076"/><stop offset="0.08" stop-color="#ff297d"/><stop offset="0.17" stop-color="#ff4c86"/><stop offset="0.25" stop-color="#ff7291"/><stop offset="0.33" stop-color="#ff9c9e"/><stop offset="0.42" stop-color="#ffceae"/><stop offset="0.50" stop-color="#f3ffba"/><stop offset="0.58" stop-color="#bbffa4"/><stop offset="0.67" stop-color="#8eff94"/><stop offset="0.75" stop-color="#67ff86"/><stop offset="0.83" stop-color="#45ff7c"/><stop offset="0.92" stop-color="#25ff73"/><stop offset="1.00" stop-color="#00ff6b"/></linearGradient>
<linearGradient id="q62" gradientUnits="userSpaceOnUse" x1="1220.8" y1="0" x2="1293.8" y2="0"><stop offset="0.00" stop-color="#ff0070"/><stop offset="0.08" stop-color="#ff2977"/><stop offset="0.17" stop-color="#ff4c7f"/><stop offset="0.25" stop-color="#ff7289"/><stop offset="0.33" stop-color="#ff9c96"/><stop offset="0.42" stop-color="#ffcea5"/><stop offset="0.50" stop-color="#f3ffb0"/><stop offset="0.58" stop-color="#bbff9c"/><stop offset="0.67" stop-color="#8eff8c"/><stop offset="0.75" stop-color="#67ff80"/><stop offset="0.83" stop-color="#45ff75"/><stop offset="0.92" stop-color="#25ff6d"/><stop offset="1.00" stop-color="#00ff65"/></linearGradient>
<linearGradient id="q63" gradientUnits="userSpaceOnUse" x1="1219.8" y1="0" x2="1293.9" y2="0"><stop offset="0.00" stop-color="#ff006a"/><stop offset="0.08" stop-color="#ff2971"/><stop offset="0.17" stop-color="#ff4d79"/><stop offset="0.25" stop-color="#ff7282"/><stop offset="0.33" stop-color="#ff9d8e"/><stop offset="0.42" stop-color="#ffce9c"/><stop offset="0.50" stop-color="#f3ffa7"/><stop offset="0.58" stop-color="#bbff94"/><stop offset="0.67" stop-color="#8eff85"/><stop offset="0.75" stop-color="#67ff79"/><stop offset="0.83" stop-color="#45ff6f"/><stop offset="0.92" stop-color="#25ff67"/><stop offset="1.00" stop-color="#00ff60"/></linearGradient>
<linearGradient id="q64" gradientUnits="userSpaceOnUse" x1="1218.8" y1="0" x2="1293.9" y2="0"><stop offset="0.00" stop-color="#ff0064"/><stop offset="0.08" stop-color="#ff296b"/><stop offset="0.17" stop-color="#ff4d72"/><stop offset="0.25" stop-color="#ff727b"/><stop offset="0.33" stop-color="#ff9d86"/><stop offset="0.42" stop-color="#ffcf94"/><stop offset="0.50" stop-color="#f2ff9e"/><stop offset="0.58" stop-color="#bbff8b"/><stop offset="0.67" stop-color="#8eff7d"/><stop offset="0.75" stop-color="#67ff72"/><stop offset="0.83" stop-color="#45ff69"/><stop offset="0.92" stop-color="#25ff61"/><stop offset="1.00" stop-color="#00ff5a"/></linearGradient>
<linearGradient id="q65" gradientUnits="userSpaceOnUse" x1="1217.8" y1="0" x2="1294.0" y2="0"><stop offset="0.00" stop-color="#ff005f"/><stop offset="0.08" stop-color="#ff2964"/><stop offset="0.17" stop-color="#ff4d6b"/><stop offset="0.25" stop-color="#ff7274"/><stop offset="0.33" stop-color="#ff9d7e"/><stop offset="0.42" stop-color="#ffcf8b"/><stop offset="0.50" stop-color="#f2ff94"/><stop offset="0.58" stop-color="#bbff83"/><stop offset="0.67" stop-color="#8eff76"/><stop offset="0.75" stop-color="#67ff6b"/><stop offset="0.83" stop-color="#45ff63"/><stop offset="0.92" stop-color="#25ff5b"/><stop offset="1.00" stop-color="#00ff55"/></linearGradient>
<linearGradient id="q66" gradientUnits="userSpaceOnUse" x1="1216.8" y1="0" x2="1294.0" y2="0"><stop offset="0.00" stop-color="#ff0059"/><stop offset="0.08" stop-color="#ff295e"/><stop offset="0.17" stop-color="#ff4d65"/><stop offset="0.25" stop-color="#ff726d"/><stop offset="0.33" stop-color="#ff9d77"/><stop offset="0.42" stop-color="#ffcf83"/><stop offset="0.50" stop-color="#f2ff8b"/><stop offset="0.58" stop-color="#bbff7b"/><stop offset="0.67" stop-color="#8eff6f"/><stop offset="0.75" stop-color="#67ff65"/><stop offset="0.83" stop-color="#45ff5d"/><stop offset="0.92" stop-color="#25ff56"/><stop offset="1.00" stop-color="#00ff50"/></linearGradient>
<linearGradient id="q67" gradientUnits="userSpaceOnUse" x1="1215.8" y1="0" x2="1294.1" y2="0"><stop offset="0.00" stop-color="#ff0053"/><stop offset="0.08" stop-color="#ff2958"/><stop offset="0.17" stop-color="#ff4d5f"/><stop offset="0.25" stop-color="#ff7366"/><stop offset="0.33" stop-color="#ff9d6f"/><stop offset="0.42" stop-color="#ffcf7a"/><stop offset="0.50" stop-color="#f2ff82"/><stop offset="0.58" stop-color="#bbff73"/><stop offset="0.67" stop-color="#8dff67"/><stop offset="0.75" stop-color="#67ff5e"/><stop offset="0.83" stop-color="#45ff57"/><stop offset="0.92" stop-color="#25ff50"/><stop offset="1.00" stop-color="#00ff4b"/></linearGradient>
<linearGradient id="q68" gradientUnits="userSpaceOnUse" x1="1214.8" y1="0" x2="1294.1" y2="0"><stop offset="0.00" stop-color="#ff004e"/><stop offset="0.08" stop-color="#ff2952"/><stop offset="0.17" stop-color="#ff4d58"/><stop offset="0.25" stop-color="#ff735f"/><stop offset="0.33" stop-color="#ff9d67"/><stop offset="0.42" stop-color="#ffcf72"/><stop offset="0.50" stop-color="#f2ff79"/><stop offset="0.58" stop-color="#baff6b"/><stop offset="0.67" stop-color="#8dff60"/><stop offset="0.75" stop-color="#67ff58"/><stop offset="0.83" stop-color="#45ff51"/><stop offset="0.92" stop-color="#25ff4b"/><stop offset="1.00" stop-color="#00ff46"/></linearGradient>
<linearGradient id="q69" gradientUnits="userSpaceOnUse" x1="1213.8" y1="0" x2="1294.1" y2="0"><stop offset="0.00" stop-color="#ff0048"/><stop offset="0.08" stop-color="#ff294d"/><stop offset="0.17" stop-color="#ff4d52"/><stop offset="0.25" stop-color="#ff7358"/><stop offset="0.33" stop-color="#ff9d60"/><stop offset="0.42" stop-color="#ffcf6a"/><stop offset="0.50" stop-color="#f2ff71"/><stop offset="0.58" stop-color="#baff63"/><stop offset="0.67" stop-color="#8dff59"/><stop offset="0.75" stop-color="#67ff51"/><stop offset="0.83" stop-color="#45ff4b"/><stop offset="0.92" stop-color="#25ff45"/><stop offset="1.00" stop-color="#00ff41"/></linearGradient>
<linearGradient id="q70" gradientUnits="userSpaceOnUse" x1="1212.8" y1="0" x2="1294.2" y2="0"><stop offset="0.00" stop-color="#ff0043"/><stop offset="0.08" stop-color="#ff2947"/><stop offset="0.17" stop-color="#ff4d4c"/><stop offset="0.25" stop-color="#ff7351"/><stop offset="0.33" stop-color="#ff9d59"/><stop offset="0.42" stop-color="#ffd062"/><stop offset="0.50" stop-color="#f2ff68"/><stop offset="0.58" stop-color="#baff5c"/><stop offset="0.67" stop-color="#8dff52"/><stop offset="0.75" stop-color="#67ff4b"/><stop offset="0.83" stop-color="#45ff45"/><stop offset="0.92" stop-color="#25ff40"/><stop offset="1.00" stop-color="#00ff3c"/></linearGradient>
<linearGradient id="q71" gradientUnits="userSpaceOnUse" x1="1211.8" y1="0" x2="1294.2" y2="0"><stop offset="0.00" stop-color="#ff003d"/><stop offset="0.08" stop-color="#ff2941"/><stop offset="0.17" stop-color="#ff4d45"/><stop offset="0.25" stop-color="#ff734b"/><stop offset="0.33" stop-color="#ff9e51"/><stop offset="0.42" stop-color="#ffd05a"/><stop offset="0.50" stop-color="#f1ff5f"/><stop offset="0.58" stop-color="#baff54"/><stop offset="0.67" stop-color="#8dff4c"/><stop offset="0.75" stop-color="#67ff45"/><stop offset="0.83" stop-color="#45ff3f"/><stop offset="0.92" stop-color="#25ff3b"/><stop offset="1.00" stop-color="#00ff37"/></linearGradient>
<linearGradient id="q72" gradientUnits="userSpaceOnUse" x1="1210.8" y1="0" x2="1294.2" y2="0"><stop offset="0.00" stop-color="#ff0038"/><stop offset="0.08" stop-color="#ff2a3b"/><stop offset="0.17" stop-color="#ff4d3f"/><stop offset="0.25" stop-color="#ff7344"/><stop offset="0.33" stop-color="#ff9e4a"/><stop offset="0.42" stop-color="#ffd051"/><stop offset="0.50" stop-color="#f1ff56"/><stop offset="0.58" stop-color="#baff4c"/><stop offset="0.67" stop-color="#8dff45"/><stop offset="0.75" stop-color="#67ff3e"/><stop offset="0.83" stop-color="#45ff39"/><stop offset="0.92" stop-color="#25ff35"/><stop offset="1.00" stop-color="#00ff32"/></linearGradient>
<linearGradient id="q73" gradientUnits="userSpaceOnUse" x1="1209.8" y1="0" x2="1294.3" y2="0"><stop offset="0.00" stop-color="#ff0032"/><stop offset="0.08" stop-color="#ff2a35"/><stop offset="0.17" stop-color="#ff4d39"/><stop offset="0.25" stop-color="#ff733d"/><stop offset="0.33" stop-color="#ff9e42"/><stop offset="0.42" stop-color="#ffd049"/><stop offset="0.50" stop-color="#f1ff4e"/><stop offset="0.58" stop-color="#baff45"/><stop offset="0.67" stop-color="#8dff3e"/><stop offset="0.75" stop-color="#67ff38"/><stop offset="0.83" stop-color="#45ff34"/><stop offset="0.92" stop-color="#25ff30"/><stop offset="1.00" stop-color="#00ff2d"/></linearGradient>
<linearGradient id="q74" gradientUnits="userSpaceOnUse" x1="1208.8" y1="0" x2="1294.3" y2="0"><stop offset="0.00" stop-color="#ff002c"/><stop offset="0.08" stop-color="#ff2a2f"/><stop offset="0.17" stop-color="#ff4d32"/><stop offset="0.25" stop-color="#ff7336"/><stop offset="0.33" stop-color="#ff9e3b"/><stop offset="0.42" stop-color="#ffd041"/><stop offset="0.50" stop-color="#f1ff45"/><stop offset="0.58" stop-color="#baff3d"/><stop offset="0.67" stop-color="#8dff37"/><stop offset="0.75" stop-color="#67ff32"/><stop offset="0.83" stop-color="#45ff2e"/><stop offset="0.92" stop-color="#25ff2a"/><stop offset="1.00" stop-color="#00ff28"/></linearGradient>
<linearGradient id="q75" gradientUnits="userSpaceOnUse" x1="1207.8" y1="0" x2="1294.3" y2="0"><stop offset="0.00" stop-color="#ff0027"/><stop offset="0.08" stop-color="#ff2a29"/><stop offset="0.17" stop-color="#ff4e2c"/><stop offset="0.25" stop-color="#ff742f"/><stop offset="0.33" stop-color="#ff9e34"/><stop offset="0.42" stop-color="#ffd039"/><stop offset="0.50" stop-color="#f1ff3c"/><stop offset="0.58" stop-color="#baff35"/><stop offset="0.67" stop-color="#8dff30"/><stop offset="0.75" stop-color="#67ff2b"/><stop offset="0.83" stop-color="#45ff28"/><stop offset="0.92" stop-color="#25ff25"/><stop offset="1.00" stop-color="#00ff23"/></linearGradient>
<linearGradient id="q76" gradientUnits="userSpaceOnUse" x1="1206.8" y1="0" x2="1294.3" y2="0"><stop offset="0.00" stop-color="#ff0021"/><stop offset="0.08" stop-color="#ff2a23"/><stop offset="0.17" stop-color="#ff4e26"/><stop offset="0.25" stop-color="#ff7428"/><stop offset="0.33" stop-color="#ff9e2c"/><stop offset="0.42" stop-color="#ffd030"/><stop offset="0.50" stop-color="#f1ff33"/><stop offset="0.58" stop-color="#baff2d"/><stop offset="0.67" stop-color="#8dff29"/><stop offset="0.75" stop-color="#67ff25"/><stop offset="0.83" stop-color="#45ff22"/><stop offset="0.92" stop-color="#25ff20"/><stop offset="1.00" stop-color="#00ff1d"/></linearGradient>
<linearGradient id="q77" gradientUnits="userSpaceOnUse" x1="1205.8" y1="0" x2="1294.3" y2="0"><stop offset="0.00" stop-color="#ff001b"/><stop offset="0.08" stop-color="#ff2a1d"/><stop offset="0.17" stop-color="#ff4e1f"/><stop offset="0.25" stop-color="#ff7421"/><stop offset="0.33" stop-color="#ff9e24"/><stop offset="0.42" stop-color="#ffd128"/><stop offset="0.50" stop-color="#f1ff2a"/><stop offset="0.58" stop-color="#baff25"/><stop offset="0.67" stop-color="#8dff21"/><stop offset="0.75" stop-color="#67ff1e"/><stop offset="0.83" stop-color="#45ff1c"/><stop offset="0.92" stop-color="#25ff1a"/><stop offset="1.00" stop-color="#00ff18"/></linearGradient>
<linearGradient id="q78" gradientUnits="userSpaceOnUse" x1="1204.8" y1="0" x2="1294.4" y2="0"><stop offset="0.00" stop-color="#ff0015"/><stop offset="0.08" stop-color="#ff2a16"/><stop offset="0.17" stop-color="#ff4e18"/><stop offset="0.25" stop-color="#ff741a"/><stop offset="0.33" stop-color="#ff9f1c"/><stop offset="0.42" stop-color="#ffd11f"/><stop offset="0.50" stop-color="#f0ff21"/><stop offset="0.58" stop-color="#baff1d"/><stop offset="0.67" stop-color="#8dff1a"/><stop offset="0.75" stop-color="#67ff18"/><stop offset="0.83" stop-color="#45ff16"/><stop offset="0.92" stop-color="#25ff14"/><stop offset="1.00" stop-color="#00ff13"/></linearGradient>
<linearGradient id="q79" gradientUnits="userSpaceOnUse" x1="1203.8" y1="0" x2="1294.4" y2="0"><stop offset="0.00" stop-color="#ff000f"/><stop offset="0.08" stop-color="#ff2a10"/><stop offset="0.17" stop-color="#ff4e11"/><stop offset="0.25" stop-color="#ff7412"/><stop offset="0.33" stop-color="#ff9f14"/><stop offset="0.42" stop-color="#ffd116"/><stop offset="0.50" stop-color="#f0ff17"/><stop offset="0.58" stop-color="#b9ff14"/><stop offset="0.67" stop-color="#8dff12"/><stop offset="0.75" stop-color="#67ff10"/><stop offset="0.83" stop-color="#45ff0f"/><stop offset="0.92" stop-color="#25ff0e"/><stop offset="1.00" stop-color="#00ff0d"/></linearGradient>
<linearGradient id="q80" gradientUnits="userSpaceOnUse" x1="1202.8" y1="0" x2="1294.4" y2="0"><stop offset="0.00" stop-color="#ff0008"/><stop offset="0.08" stop-color="#ff2a08"/><stop offset="0.17" stop-color="#ff4e09"/><stop offset="0.25" stop-color="#ff7409"/><stop offset="0.33" stop-color="#ff9f0a"/><stop offset="0.42" stop-color="#ffd10b"/><stop offset="0.50" stop-color="#f0ff0c"/><stop offset="0.58" stop-color="#b9ff0a"/><stop offset="0.67" stop-color="#8dff09"/><stop offset="0.75" stop-color="#67ff09"/><stop offset="0.83" stop-color="#45ff08"/><stop offset="0.92" stop-color="#25ff07"/><stop offset="1.00" stop-color="#00ff07"/></linearGradient>
<linearGradient id="q81" gradientUnits="userSpaceOnUse" x1="1202.2" y1="0" x2="1294.4" y2="0"><stop offset="0.00" stop-color="#ff0003"/><stop offset="0.08" stop-color="#ff2a03"/><stop offset="0.17" stop-color="#ff4e03"/><stop offset="0.25" stop-color="#ff7403"/><stop offset="0.33" stop-color="#ff9f03"/><stop offset="0.42" stop-color="#ffd104"/><stop offset="0.50" stop-color="#f0ff04"/><stop offset="0.58" stop-color="#b9ff03"/><stop offset="0.67" stop-color="#8dff03"/><stop offset="0.75" stop-color="#67ff03"/><stop offset="0.83" stop-color="#45ff03"/><stop offset="0.92" stop-color="#25ff02"/><stop offset="1.00" stop-color="#00ff02"/></linearGradient>
<linearGradient id="q82" gradientUnits="userSpaceOnUse" x1="1202.2" y1="0" x2="1294.4" y2="0"><stop offset="0.00" stop-color="#ff0003"/><stop offset="0.08" stop-color="#ff2a03"/><stop offset="0.17" stop-color="#ff4e03"/><stop offset="0.25" stop-color="#ff7403"/><stop offset="0.33" stop-color="#ff9f03"/><stop offset="0.42" stop-color="#ffd104"/><stop offset="0.50" stop-color="#f0ff04"/><stop offset="0.58" stop-color="#b9ff03"/><stop offset="0.67" stop-color="#8dff03"/><stop offset="0.75" stop-color="#67ff03"/><stop offset="0.83" stop-color="#45ff03"/><stop offset="0.92" stop-color="#25ff02"/><stop offset="1.00" stop-color="#00ff02"/></linearGradient>
</defs>
<rect width="1333" height="512" fill="#fff"/>

<!-- panel (a) -->
<text x="26.7" y="54.8" font-size="30" textLength="38.6" lengthAdjust="spacingAndGlyphs">(a)</text>
<text x="235.5" y="122.8" font-size="25" text-anchor="middle" textLength="84" lengthAdjust="spacingAndGlyphs">Ta-10W</text>
<text x="238.5" y="152.2" font-size="25" text-anchor="middle" textLength="270" lengthAdjust="spacingAndGlyphs">As-casted Button Alloy</text>

<ellipse cx="232.25" cy="291.8" rx="110.2" ry="44" fill="#DDDDDD" stroke="#000" stroke-width="2"/>
<rect x="187.2" y="266" width="90.7" height="50.1" fill="#EFEF6A" stroke="#000" stroke-width="2"/>
<line x1="231.6" y1="177" x2="231.6" y2="399.5" stroke="#111" stroke-width="1.3"/>
<line x1="92" y1="291.8" x2="378.7" y2="291.8" stroke="#111" stroke-width="1.3"/>
<!-- curved pointer -->
<path d="M239.8,326 C241.5,340 246,354 250.5,361 C256,369 261,367.5 266,370.5 C274,375.5 282,392 284,422.5" fill="none" stroke="#000" stroke-width="1.2"/>
<polygon points="238.4,317.2 234,327.8 245.3,326.6" fill="#000"/>
<text x="283" y="453.8" font-size="25" font-style="italic" text-anchor="middle" textLength="192" lengthAdjust="spacingAndGlyphs">EBSD Measured</text>
<text x="282" y="483.6" font-size="25" font-style="italic" text-anchor="middle" textLength="186" lengthAdjust="spacingAndGlyphs">in center region</text>

<!-- axis (a) -->
<g>
<line x1="112.6" y1="396" x2="112.6" y2="356" stroke="#000" stroke-width="1"/>
<polygon points="112.6,351.4 109,358.2 116.2,358.2" fill="#000"/>
<line x1="117" y1="400.2" x2="157" y2="400.2" stroke="#000" stroke-width="1"/>
<polygon points="162.8,400.2 156,396.6 156,403.8" fill="#000"/>
<ellipse cx="112.9" cy="400.2" rx="4.3" ry="3.6" fill="#fff" stroke="#000" stroke-width="1"/>
<text x="103.5" y="345.4" font-size="14.5" textLength="20.5" lengthAdjust="spacingAndGlyphs">ND</text>
<text x="169" y="405.2" font-size="14.5" textLength="22" lengthAdjust="spacingAndGlyphs">RD</text>
<text x="103.5" y="422.2" font-size="14.5" textLength="19.5" lengthAdjust="spacingAndGlyphs">TD</text>
</g>

<!-- heat flow -->
<text x="404.1" y="201.2" font-size="25" text-anchor="middle" style="fill:#0000FF" textLength="110" lengthAdjust="spacingAndGlyphs">Heat flow</text>
<text x="403" y="230" font-size="25" text-anchor="middle" style="fill:#0000FF" textLength="174" lengthAdjust="spacingAndGlyphs">during cooling</text>
<line x1="507.5" y1="128.6" x2="507.5" y2="321" stroke="#0000FF" stroke-width="2.9" stroke-dasharray="12.3 8.6"/>
<polygon points="501.3,318.6 513.5,318.6 507.4,330.9" fill="#0000FF"/>

<!-- panel (b) -->
<text x="469" y="54.8" font-size="30" textLength="38.4" lengthAdjust="spacingAndGlyphs">(b)</text>
<text x="837" y="96.2" font-size="24.6" text-anchor="middle" textLength="436.5" lengthAdjust="spacingAndGlyphs">ND-IPF map (as-casted Ta-10W alloy)</text>

<!-- IPF map -->
<g clip-path="url(#mapclip)" stroke="#3a2a20" stroke-width="0.9" stroke-linejoin="round">
<rect x="538" y="106" width="630" height="320" fill="url(#gP1)" stroke="none"/>
<polygon points="616,106 616.0,108.0 618.35,111.66 620.72,115.31 623.09,118.97 625.44,122.63 627.75,126.3 630.0,130.0 632.17,133.75 634.28,137.56 636.34,141.38 638.39,145.17 640.43,148.89 642.5,152.5 644.58,155.92 646.67,159.17 648.75,162.34 650.83,165.56 652.92,168.91 655.0,172.5 657.08,176.33 659.17,180.3 661.25,184.41 663.33,188.65 665.42,193.02 667.5,197.5 669.58,202.2 671.67,207.13 673.75,212.19 675.83,217.26 677.92,222.23 680.0,227.0 682.08,231.52 684.17,235.87 686.25,240.12 688.33,244.35 690.42,248.62 692.5,253.0 694.58,257.53 696.67,262.15 698.75,266.81 700.83,271.46 702.92,276.04 705.0,280.5 707.11,284.9 709.26,289.3 711.41,293.62 713.52,297.81 715.56,301.8 717.5,305.5 719.36,308.98 721.19,312.31 722.94,315.42 724.59,318.28 726.12,320.82 727.5,323.0 728.68,324.69 729.67,325.92 730.53,326.83 731.33,327.58 732.14,328.34 733,329.25 734.55,326.14 736.06,323.05 737.56,319.95 739.11,316.84 740.74,313.7 742.5,310.5 744.41,307.18 746.44,303.74 748.56,300.27 750.72,296.84 752.88,293.56 755.0,290.5 757.08,287.68 759.17,285.04 761.25,282.53 763.33,280.13 765.42,277.8 767.5,275.5 769.58,273.33 771.67,271.33 773.75,269.41 775.83,267.44 777.92,265.34 780.0,263.0 782.11,260.29 784.26,257.26 786.41,254.09 788.52,250.96 790.56,248.04 792.5,245.5 794.25,243.36 795.83,241.47 797.34,239.8 798.89,238.28 800.57,236.86 802.5,235.5 804.68,234.18 807.04,232.94 809.53,231.8 812.13,230.79 814.8,229.93 817.5,229.25 820.3,228.79 823.22,228.53 826.22,228.42 829.22,228.42 832.17,228.46 835.0,228.5 837.7,228.57 840.31,228.7 842.88,228.89 845.41,229.1 847.94,229.31 850.5,229.5 850.05,227.15 849.67,224.87 849.28,222.59 848.83,220.24 848.26,217.73 847.5,215.0 846.54,212.04 845.43,208.93 844.19,205.66 842.85,202.24 841.45,198.69 840.0,195.0 838.51,191.12 836.94,187.04 835.31,182.81 833.61,178.52 831.84,174.22 830.0,170.0 828.06,165.78 826.02,161.48 823.91,157.19 821.76,152.96 819.61,148.88 817.5,145.0 815.4,141.34 813.29,137.85 811.17,134.5 809.07,131.26 807.01,128.1 805.0,125.0 803.05,121.99 801.16,119.11 799.3,116.31 797.45,113.56 795.61,110.8 793.75,108.0 793.75,106" fill="url(#gP2)"/>
<polygon points="538,246.75 540.0,246.75 544.61,248.16 549.26,249.53 553.91,250.89 558.52,252.31 563.06,253.82 567.5,255.5 571.9,257.34 576.3,259.3 580.62,261.36 584.81,263.51 588.8,265.73 592.5,268.0 595.82,270.27 598.8,272.54 601.56,274.88 604.26,277.35 607.03,280.04 610.0,283.0 613.22,286.34 616.57,290.04 620.0,293.94 623.43,297.91 626.78,301.81 630.0,305.5 633.12,309.03 636.2,312.52 639.22,315.94 642.13,319.26 644.9,322.46 647.5,325.5 649.93,328.38 652.22,331.13 654.38,333.75 656.39,336.26 658.26,338.67 660.0,341.0 661.48,343.06 662.69,344.8 663.75,346.44 664.81,348.2 666.02,350.32 667.5,353.0 669.29,356.35 671.3,360.22 673.44,364.44 675.65,368.83 677.86,373.24 680.0,377.5 682.11,381.7 684.26,386.0 686.41,390.31 688.52,394.56 690.56,398.65 692.5,402.5 694.31,406.07 696.02,409.41 697.66,412.59 699.26,415.7 700.86,418.81 702.5,422 538,424" fill="url(#gO1)"/>
<polygon points="733.0,329.25 734.55,326.14 736.06,323.05 737.56,319.95 739.11,316.84 740.74,313.7 742.5,310.5 744.41,307.18 746.44,303.74 748.56,300.27 750.72,296.84 752.88,293.56 755.0,290.5 757.08,287.68 759.17,285.04 761.25,282.53 763.33,280.13 765.42,277.8 767.5,275.5 769.58,273.33 771.67,271.33 773.75,269.41 775.83,267.44 777.92,265.34 780.0,263.0 782.11,260.29 784.26,257.26 786.41,254.09 788.52,250.96 790.56,248.04 792.5,245.5 794.25,243.36 795.83,241.47 797.34,239.8 798.89,238.28 800.57,236.86 802.5,235.5 804.68,234.18 807.04,232.94 809.53,231.8 812.13,230.79 814.8,229.93 817.5,229.25 820.3,228.79 823.22,228.53 826.22,228.42 829.22,228.42 832.17,228.46 835.0,228.5 837.7,228.57 840.31,228.7 842.88,228.89 845.41,229.1 847.94,229.31 850.5,229.5 850.88,230.92 851.23,232.33 851.57,233.75 851.96,235.17 852.42,236.58 853.0,238.0 853.73,239.45 854.58,240.94 855.51,242.44 856.47,243.89 857.42,245.26 858.3,246.5 859.13,247.62 859.94,248.65 860.73,249.59 861.51,250.46 862.26,251.26 863.0,252.0 863.71,252.66 864.39,253.22 865.04,253.72 865.69,254.17 866.34,254.59 867.0,255.0 867.67,255.39 868.33,255.74 869.0,256.06 869.67,256.37 870.33,256.68 871,257 872.5,261 874.4,269.4 876.04,271.55 877.64,273.61 879.24,275.68 880.88,277.83 882.59,280.17 884.4,282.8 886.38,285.75 888.5,288.96 890.69,292.36 892.87,295.88 894.97,299.45 896.9,303.0 898.66,306.6 900.31,310.32 901.87,314.09 903.37,317.84 904.82,321.5 906.25,325.0 907.63,328.31 908.95,331.49 910.23,334.58 911.48,337.62 912.73,340.66 914,343.75 913.41,345.71 912.8,347.66 912.19,349.61 911.59,351.56 911.03,353.53 910.5,355.5 910.04,357.31 909.65,358.91 909.28,360.52 908.91,362.34 908.49,364.6 908.0,367.5 907.4,371.19 906.7,375.54 905.97,380.31 905.24,385.3 904.57,390.27 904.0,395.0 903.55,399.53 903.19,404.04 902.88,408.53 902.59,413.02 902.31,417.51 902,422 767.5,422 766.28,418.81 765.09,415.7 763.91,412.59 762.69,409.41 761.39,406.07 760.0,402.5 758.48,398.68 756.85,394.67 755.16,390.5 753.43,386.22 751.7,381.88 750.0,377.5 748.26,372.85 746.44,367.85 744.62,362.78 742.89,357.93 741.32,353.57 740.0,350.0 738.97,347.4 738.19,345.56 737.56,344.23 737.04,343.13 736.54,341.98 736.0,340.5 735.44,338.73 734.93,336.88 734.44,334.98 733.96,333.06 733.49,331.15 733.0,329.25" fill="url(#gG1)"/>
<polygon points="793.75,106 793.75,108.0 795.61,110.8 797.45,113.56 799.3,116.31 801.16,119.11 803.05,121.99 805.0,125.0 807.01,128.1 809.07,131.26 811.17,134.5 813.29,137.85 815.4,141.34 817.5,145.0 819.61,148.88 821.76,152.96 823.91,157.19 826.02,161.48 828.06,165.78 830.0,170.0 831.84,174.22 833.61,178.52 835.31,182.81 836.94,187.04 838.51,191.12 840.0,195.0 841.45,198.69 842.85,202.24 844.19,205.66 845.43,208.93 846.54,212.04 847.5,215.0 848.26,217.73 848.83,220.24 849.28,222.59 849.67,224.87 850.05,227.15 850.5,229.5 850.88,230.92 851.23,232.33 851.57,233.75 851.96,235.17 852.42,236.58 853.0,238.0 853.73,239.45 854.58,240.94 855.51,242.44 856.47,243.89 857.42,245.26 858.3,246.5 859.13,247.62 859.94,248.65 860.73,249.59 861.51,250.46 862.26,251.26 863.0,252.0 863.71,252.66 864.39,253.22 865.04,253.72 865.69,254.17 866.34,254.59 867.0,255.0 867.67,255.39 868.33,255.74 869.0,256.06 869.67,256.37 870.33,256.68 871,257 871.57,256.12 872.16,255.28 872.75,254.44 873.32,253.56 873.84,252.59 874.3,251.5 874.69,250.3 875.03,249.02 875.33,247.66 875.59,246.2 875.81,244.65 876.0,243.0 876.18,241.22 876.34,239.31 876.47,237.31 876.54,235.24 876.52,233.13 876.4,231.0 876.18,228.91 875.88,226.85 875.49,224.75 875.01,222.54 874.44,220.14 873.75,217.5 872.96,214.6 872.07,211.5 871.08,208.22 869.99,204.78 868.8,201.2 867.5,197.5 866.04,193.59 864.4,189.44 862.66,185.16 860.88,180.83 859.14,176.58 857.5,172.5 855.97,168.63 854.49,164.91 853.05,161.25 851.62,157.59 850.19,153.87 848.75,150.0 847.28,145.89 845.81,141.56 844.33,137.16 842.86,132.83 841.41,128.73 840.0,125.0 838.62,121.7 837.28,118.74 835.95,116.0 834.64,113.37 833.32,110.74 832.0,108.0 832,106" fill="#6644EE"/>
<polygon points="832,106 832.0,108.0 833.32,110.74 834.64,113.37 835.95,116.0 837.28,118.74 838.62,121.7 840.0,125.0 841.41,128.73 842.86,132.83 844.33,137.16 845.81,141.56 847.28,145.89 848.75,150.0 850.19,153.87 851.62,157.59 853.05,161.25 854.49,164.91 855.97,168.63 857.5,172.5 859.14,176.58 860.88,180.83 862.66,185.16 864.4,189.44 866.04,193.59 867.5,197.5 868.8,201.2 869.99,204.78 871.08,208.22 872.07,211.5 872.96,214.6 873.75,217.5 874.44,220.14 875.01,222.54 875.49,224.75 875.88,226.85 876.18,228.91 876.4,231.0 876.52,233.13 876.54,235.24 876.47,237.31 876.34,239.31 876.18,241.22 876.0,243.0 875.81,244.65 875.59,246.2 875.33,247.66 875.03,249.02 874.69,250.3 874.3,251.5 873.84,252.59 873.32,253.56 872.75,254.44 872.16,255.28 871.57,256.12 871,257 872.5,261 874.4,269.4 876.04,271.55 877.64,273.61 879.24,275.68 880.88,277.83 882.59,280.17 884.4,282.8 886.38,285.75 888.5,288.96 890.69,292.36 892.87,295.88 894.97,299.45 896.9,303.0 898.66,306.6 900.31,310.32 901.87,314.09 903.37,317.84 904.82,321.5 906.25,325.0 907.63,328.31 908.95,331.49 910.23,334.58 911.48,337.62 912.73,340.66 914,343.75 915.9,345.32 917.87,346.92 919.84,348.52 921.74,350.08 923.48,351.59 925.0,353.0 926.12,354.18 926.89,355.11 927.5,355.98 928.17,356.97 929.1,358.25 930.5,360.0 932.48,362.31 934.89,365.06 937.56,368.09 940.33,371.28 943.03,374.46 945.5,377.5 947.81,380.54 950.13,383.72 952.38,386.91 954.48,389.94 956.38,392.69 958.0,395.0 959.27,396.77 960.22,398.11 960.97,399.16 961.61,400.06 962.25,400.95 963,402 964.71,401.06 966.48,400.19 968.25,399.31 969.96,398.37 971.56,397.29 973.0,396.0 974.23,394.5 975.28,392.85 976.22,391.06 977.11,389.15 978.02,387.12 979.0,385.0 980.09,382.73 981.24,380.3 982.41,377.75 983.54,375.15 984.58,372.55 985.5,370.0 986.3,367.5 987.02,365.0 987.66,362.5 988.2,360.0 988.65,357.5 989.0,355.0 989.23,352.55 989.34,350.17 989.36,347.78 989.3,345.33 989.17,342.76 989.0,340.0 988.71,336.99 988.29,333.76 987.8,330.41 987.32,327.02 986.95,323.69 986.75,320.5 986.74,317.7 986.84,315.26 987.05,312.88 987.32,310.24 987.65,307.05 988.0,303.0 988.44,297.91 989.0,292.0 989.61,285.53 990.19,278.78 990.68,272.01 991.0,265.5 991.13,259.22 991.13,252.94 991.03,246.66 990.87,240.33 990.68,233.95 990.5,227.5 990.28,220.76 989.98,213.71 989.66,206.61 989.35,199.7 989.12,193.25 989.0,187.5 988.97,182.66 988.98,178.56 989.06,174.92 989.24,171.44 989.54,167.81 990.0,163.75 990.68,159.23 991.57,154.47 992.59,149.58 993.65,144.64 994.65,139.75 995.5,135.0 996.2,130.4 996.81,125.87 997.38,121.39 997.91,116.94 998.44,112.48 999.0,108.0 999,106" fill="url(#gY)"/>
<polygon points="914.0,343.75 913.41,345.71 912.8,347.66 912.19,349.61 911.59,351.56 911.03,353.53 910.5,355.5 910.04,357.31 909.65,358.91 909.28,360.52 908.91,362.34 908.49,364.6 908.0,367.5 907.4,371.19 906.7,375.54 905.97,380.31 905.24,385.3 904.57,390.27 904.0,395.0 903.55,399.53 903.19,404.04 902.88,408.53 902.59,413.02 902.31,417.51 902,422 967.5,422 967.17,419.95 966.85,417.85 966.53,415.75 966.2,413.7 965.86,411.77 965.5,410.0 965.11,408.44 964.7,407.04 964.28,405.75 963.85,404.52 963.42,403.29 963.0,402.0 962.25,400.95 961.61,400.06 960.97,399.16 960.22,398.11 959.27,396.77 958.0,395.0 956.38,392.69 954.48,389.94 952.38,386.91 950.13,383.72 947.81,380.54 945.5,377.5 943.03,374.46 940.33,371.28 937.56,368.09 934.89,365.06 932.48,362.31 930.5,360.0 929.1,358.25 928.17,356.97 927.5,355.98 926.89,355.11 926.12,354.18 925.0,353.0 923.48,351.59 921.74,350.08 919.84,348.52 917.87,346.92 915.9,345.32 914.0,343.75" fill="#8CF47C"/>
<polygon points="999,106 999.0,108.0 998.44,112.48 997.91,116.94 997.38,121.39 996.81,125.87 996.2,130.4 995.5,135.0 994.65,139.75 993.65,144.64 992.59,149.58 991.57,154.47 990.68,159.23 990.0,163.75 989.54,167.81 989.24,171.44 989.06,174.92 988.98,178.56 988.97,182.66 989.0,187.5 989.12,193.25 989.35,199.7 989.66,206.61 989.98,213.71 990.28,220.76 990.5,227.5 990.68,233.95 990.87,240.33 991.03,246.66 991.13,252.94 991.13,259.22 991.0,265.5 990.68,272.01 990.19,278.78 989.61,285.53 989.0,292.0 988.44,297.91 988.0,303.0 987.65,307.05 987.32,310.24 987.05,312.88 986.84,315.26 986.74,317.7 986.75,320.5 986.95,323.69 987.32,327.02 987.8,330.41 988.29,333.76 988.71,336.99 989.0,340.0 989.17,342.76 989.3,345.33 989.36,347.78 989.34,350.17 989.23,352.55 989.0,355.0 988.65,357.5 988.2,360.0 987.66,362.5 987.02,365.0 986.3,367.5 985.5,370.0 984.58,372.55 983.54,375.15 982.41,377.75 981.24,380.3 980.09,382.73 979.0,385.0 978.02,387.12 977.11,389.15 976.22,391.06 975.28,392.85 974.23,394.5 973.0,396.0 971.56,397.29 969.96,398.37 968.25,399.31 966.48,400.19 964.71,401.06 963,402 963.42,403.29 963.85,404.52 964.28,405.75 964.7,407.04 965.11,408.44 965.5,410.0 965.86,411.77 966.2,413.7 966.53,415.75 966.85,417.85 967.17,419.95 967.5,422 1127.5,422 1127.72,416.54 1127.91,410.94 1128.09,405.33 1128.31,399.87 1128.61,394.71 1129.0,390.0 1129.52,385.84 1130.15,382.12 1130.84,378.7 1131.57,375.44 1132.3,372.17 1133.0,368.75 1132.6,366.04 1132.21,363.44 1131.83,360.83 1131.43,358.12 1130.99,355.21 1130.5,352.0 1129.94,348.46 1129.31,344.67 1128.64,340.67 1127.97,336.53 1127.33,332.29 1126.75,328.0 1126.23,323.62 1125.76,319.09 1125.31,314.47 1124.88,309.8 1124.45,305.12 1124.0,300.5 1122.18,297.22 1120.39,294.02 1118.59,290.81 1116.78,287.54 1114.92,284.12 1113.0,280.5 1111.02,276.67 1108.99,272.7 1106.92,268.59 1104.81,264.35 1102.67,259.98 1100.5,255.5 1098.31,250.89 1096.1,246.15 1093.86,241.28 1091.56,236.3 1089.2,231.2 1086.75,226.0 1084.2,220.64 1081.56,215.09 1078.86,209.44 1076.1,203.74 1073.31,198.07 1070.5,192.5 1067.63,186.97 1064.67,181.41 1061.67,175.88 1058.69,170.43 1055.79,165.12 1053.0,160.0 1050.33,155.09 1047.72,150.35 1045.19,145.75 1042.72,141.26 1040.33,136.85 1038.0,132.5 1035.77,128.24 1033.65,124.11 1031.59,120.06 1029.57,116.06 1027.55,112.05 1025.5,108.0 1025.5,106" fill="url(#gO2)"/>
<polygon points="1025.5,106 1025.5,108.0 1027.55,112.05 1029.57,116.06 1031.59,120.06 1033.65,124.11 1035.77,128.24 1038.0,132.5 1040.33,136.85 1042.72,141.26 1045.19,145.75 1047.72,150.35 1050.33,155.09 1053.0,160.0 1055.79,165.12 1058.69,170.43 1061.67,175.88 1064.67,181.41 1067.63,186.97 1070.5,192.5 1073.31,198.07 1076.1,203.74 1078.86,209.44 1081.56,215.09 1084.2,220.64 1086.75,226.0 1089.2,231.2 1091.56,236.3 1093.86,241.28 1096.1,246.15 1098.31,250.89 1100.5,255.5 1102.67,259.98 1104.81,264.35 1106.92,268.59 1108.99,272.7 1111.02,276.67 1113.0,280.5 1114.92,284.12 1116.78,287.54 1118.59,290.81 1120.39,294.02 1122.18,297.22 1124,300.5 1126.0,298.12 1128.09,295.87 1130.19,293.62 1132.19,291.24 1133.99,288.58 1135.5,285.5 1136.7,282.02 1137.65,278.26 1138.41,274.22 1139.02,269.91 1139.53,265.33 1140.0,260.5 1140.42,255.26 1140.74,249.57 1140.97,243.62 1141.09,237.59 1141.11,231.66 1141.0,226.0 1140.73,220.62 1140.28,215.37 1139.72,210.22 1139.11,205.13 1138.52,200.07 1138.0,195.0 1137.53,189.94 1137.06,184.93 1136.59,179.94 1136.17,174.96 1135.8,169.99 1135.5,165.0 1135.26,159.97 1135.06,154.89 1134.91,149.81 1134.83,144.78 1134.86,139.83 1135.0,135.0 1135.3,130.33 1135.74,125.78 1136.28,121.31 1136.87,116.89 1137.46,112.47 1138.0,108.0 1138,106" fill="url(#gPA)"/>
<polygon points="1138,106 1138.0,108.0 1137.46,112.47 1136.87,116.89 1136.28,121.31 1135.74,125.78 1135.3,130.33 1135.0,135.0 1134.86,139.83 1134.83,144.78 1134.91,149.81 1135.06,154.89 1135.26,159.97 1135.5,165.0 1135.8,169.99 1136.17,174.96 1136.59,179.94 1137.06,184.93 1137.53,189.94 1138.0,195.0 1138.52,200.07 1139.11,205.13 1139.72,210.22 1140.28,215.37 1140.73,220.62 1141.0,226.0 1141.11,231.66 1141.09,237.59 1140.97,243.62 1140.74,249.57 1140.42,255.26 1140.0,260.5 1139.53,265.33 1139.02,269.91 1138.41,274.22 1137.65,278.26 1136.7,282.02 1135.5,285.5 1133.99,288.58 1132.19,291.24 1130.19,293.62 1128.09,295.87 1126.0,298.12 1124,300.5 1124.45,305.12 1124.88,309.8 1125.31,314.47 1125.76,319.09 1126.23,323.62 1126.75,328.0 1127.33,332.29 1127.97,336.53 1128.64,340.67 1129.31,344.67 1129.94,348.46 1130.5,352.0 1130.99,355.21 1131.43,358.12 1131.83,360.83 1132.21,363.44 1132.6,366.04 1133,368.75 1140.5,390 1150.5,408.75 1156.75,414.5 1159,410 1162,398 1166,398 1166,106" fill="url(#gK)"/>
<polygon points="1133.0,368.75 1132.3,372.17 1131.57,375.44 1130.84,378.7 1130.15,382.12 1129.52,385.84 1129.0,390.0 1128.61,394.71 1128.31,399.87 1128.09,405.33 1127.91,410.94 1127.72,416.54 1127.5,422 1158.5,422 1156.75,414.5 1159,410 1156.75,414.5 1150.5,408.75" fill="#FF6292"/>
<polygon points="1156.75,414.5 1159,410 1162,398 1166,398 1166,424 1158.5,424" fill="#FFC030"/>
<polygon points="861,251.5 864,252.3 867,255 871,257 872.5,261 874.4,269.4 867,274.4 861.5,275.6 860.3,265.6" fill="#FF4A1E"/>
<polygon points="861.4,323.4 861.04,324.08 860.66,324.75 860.29,325.42 859.93,326.1 859.59,326.79 859.3,327.5 859.04,328.2 858.8,328.86 858.59,329.54 858.41,330.28 858.28,331.12 858.2,332.1 858.15,333.28 858.13,334.65 858.16,336.11 858.24,337.6 858.42,339.02 858.7,340.3 859.13,341.47 859.69,342.6 860.33,343.68 861.01,344.66 861.69,345.55 862.3,346.3 862.87,346.94 863.45,347.49 864.02,347.93 864.56,348.26 865.06,348.45 865.5,348.5 865.89,348.38 866.23,348.08 866.53,347.66 866.79,347.14 867.02,346.58 867.2,346.0 867.35,345.43 867.46,344.84 867.53,344.21 867.56,343.49 867.55,342.66 867.5,341.7 867.41,340.54 867.28,339.21 867.11,337.76 866.9,336.28 866.66,334.84 866.4,333.5 866.1,332.23 865.77,330.97 865.41,329.74 865.02,328.58 864.61,327.52 864.2,326.6 863.77,325.85 863.31,325.26 862.84,324.77 862.36,324.33 861.87,323.89 861.4,323.4" fill="#FF4A1E"/>

<g stroke="none">
<path d="M597.5,288 L606,322 L613.75,353 L625,405" fill="none" stroke="#fff" stroke-width="1.1" stroke-dasharray="1.6 2.6" stroke-opacity="0.85"/>
<g fill="#2a2a18"><circle cx="555" cy="121.75" r="0.95"/><circle cx="708" cy="115.5" r="0.95"/><circle cx="756" cy="110.5" r="0.95"/><circle cx="773.75" cy="124.25" r="0.95"/><circle cx="684.25" cy="143" r="0.95"/><circle cx="560" cy="180" r="0.95"/><circle cx="831.75" cy="195" r="0.95"/><circle cx="543.75" cy="268" r="0.95"/><circle cx="602.5" cy="310.5" r="0.95"/><circle cx="597.5" cy="318.5" r="0.95"/><circle cx="605.5" cy="323.5" r="0.95"/><circle cx="610" cy="331" r="0.95"/><circle cx="614.5" cy="330.5" r="0.95"/><circle cx="571" cy="346.5" r="0.95"/><circle cx="637" cy="354.4" r="0.95"/><circle cx="1025.5" cy="269.25" r="0.95"/><circle cx="1078.5" cy="277.5" r="0.95"/><circle cx="555" cy="290" r="0.95"/></g>
<g fill="#fff" fill-opacity="0.85"><circle cx="573.75" cy="173.25" r="0.8"/><circle cx="612.5" cy="158.75" r="0.8"/><circle cx="751.25" cy="206.25" r="0.8"/><circle cx="787.5" cy="212.5" r="0.8"/><circle cx="575" cy="207.5" r="0.8"/><circle cx="556" cy="290.5" r="0.8"/><circle cx="607.5" cy="293" r="0.8"/><circle cx="677.5" cy="240.5" r="0.8"/><circle cx="727.5" cy="387.5" r="0.8"/><circle cx="693" cy="402" r="0.8"/><circle cx="545" cy="386" r="0.8"/><circle cx="1009.5" cy="382.5" r="0.8"/></g>
</g>
</g>
<rect x="539.8" y="108.6" width="624" height="313.1" fill="none" stroke="#000" stroke-width="2"/>

<!-- axis (b) -->
<g>
<line x1="507.4" y1="434.5" x2="507.4" y2="397" stroke="#000" stroke-width="1"/>
<polygon points="507.4,391.3 503.8,398.1 511,398.1" fill="#000"/>
<line x1="512" y1="438.8" x2="551" y2="438.8" stroke="#000" stroke-width="1"/>
<polygon points="557.4,438.8 550.6,435.2 550.6,442.4" fill="#000"/>
<ellipse cx="507.6" cy="439" rx="4.3" ry="3.6" fill="#fff" stroke="#000" stroke-width="1"/>
<text x="498" y="384.9" font-size="14.5" textLength="21" lengthAdjust="spacingAndGlyphs">ND</text>
<text x="563.6" y="444.2" font-size="14.5" textLength="21.5" lengthAdjust="spacingAndGlyphs">RD</text>
<text x="498" y="461" font-size="14.5" textLength="19.5" lengthAdjust="spacingAndGlyphs">TD</text>
</g>

<!-- scale bar -->
<rect x="1056.9" y="433.6" width="110.1" height="11.8" fill="#000"/>
<text x="1077.2" y="475" font-size="25" class="ser" textLength="74.3" lengthAdjust="spacingAndGlyphs"><tspan>700</tspan><tspan font-style="italic">μ</tspan><tspan>m</tspan></text>

<!-- IPF colour key -->
<g clip-path="url(#triclip)" shape-rendering="crispEdges">
<rect x="1281.3" y="321" width="4.0" height="1" fill="url(#q0)"/>
<rect x="1280.3" y="322" width="5.3" height="1" fill="url(#q1)"/>
<rect x="1279.3" y="323" width="6.6" height="1" fill="url(#q2)"/>
<rect x="1278.3" y="324" width="7.8" height="1" fill="url(#q3)"/>
<rect x="1277.3" y="325" width="9.1" height="1" fill="url(#q4)"/>
<rect x="1276.3" y="326" width="10.3" height="1" fill="url(#q5)"/>
<rect x="1275.3" y="327" width="11.6" height="1" fill="url(#q6)"/>
<rect x="1274.3" y="328" width="12.8" height="1" fill="url(#q7)"/>
<rect x="1273.3" y="329" width="14.1" height="1" fill="url(#q8)"/>
<rect x="1272.3" y="330" width="15.3" height="1" fill="url(#q9)"/>
<rect x="1271.3" y="331" width="16.5" height="1" fill="url(#q10)"/>
<rect x="1270.3" y="332" width="17.7" height="1" fill="url(#q11)"/>
<rect x="1269.3" y="333" width="19.0" height="1" fill="url(#q12)"/>
<rect x="1268.3" y="334" width="20.2" height="1" fill="url(#q13)"/>
<rect x="1267.3" y="335" width="21.4" height="1" fill="url(#q14)"/>
<rect x="1266.3" y="336" width="22.6" height="1" fill="url(#q15)"/>
<rect x="1265.3" y="337" width="23.8" height="1" fill="url(#q16)"/>
<rect x="1264.3" y="338" width="25.0" height="1" fill="url(#q17)"/>
<rect x="1263.3" y="339" width="26.3" height="1" fill="url(#q18)"/>
<rect x="1262.3" y="340" width="27.5" height="1" fill="url(#q19)"/>
<rect x="1261.3" y="341" width="28.7" height="1" fill="url(#q20)"/>
<rect x="1260.3" y="342" width="29.8" height="1" fill="url(#q21)"/>
<rect x="1259.3" y="343" width="31.0" height="1" fill="url(#q22)"/>
<rect x="1258.3" y="344" width="32.2" height="1" fill="url(#q23)"/>
<rect x="1257.3" y="345" width="33.4" height="1" fill="url(#q24)"/>
<rect x="1256.3" y="346" width="34.6" height="1" fill="url(#q25)"/>
<rect x="1255.3" y="347" width="35.8" height="1" fill="url(#q26)"/>
<rect x="1254.3" y="348" width="36.9" height="1" fill="url(#q27)"/>
<rect x="1253.3" y="349" width="38.1" height="1" fill="url(#q28)"/>
<rect x="1252.3" y="350" width="39.3" height="1" fill="url(#q29)"/>
<rect x="1251.3" y="351" width="40.5" height="1" fill="url(#q30)"/>
<rect x="1250.3" y="352" width="41.6" height="1" fill="url(#q31)"/>
<rect x="1249.3" y="353" width="42.8" height="1" fill="url(#q32)"/>
<rect x="1248.3" y="354" width="43.9" height="1" fill="url(#q33)"/>
<rect x="1247.3" y="355" width="45.1" height="1" fill="url(#q34)"/>
<rect x="1246.3" y="356" width="46.2" height="1" fill="url(#q35)"/>
<rect x="1245.3" y="357" width="47.4" height="1" fill="url(#q36)"/>
<rect x="1244.3" y="358" width="48.5" height="1" fill="url(#q37)"/>
<rect x="1243.3" y="359" width="49.7" height="1" fill="url(#q38)"/>
<rect x="1242.3" y="360" width="50.8" height="1" fill="url(#q39)"/>
<rect x="1241.3" y="361" width="51.9" height="1" fill="url(#q40)"/>
<rect x="1240.3" y="362" width="53.0" height="1" fill="url(#q41)"/>
<rect x="1239.3" y="363" width="54.2" height="1" fill="url(#q42)"/>
<rect x="1238.3" y="364" width="55.3" height="1" fill="url(#q43)"/>
<rect x="1237.3" y="365" width="56.4" height="1" fill="url(#q44)"/>
<rect x="1236.3" y="366" width="57.5" height="1" fill="url(#q45)"/>
<rect x="1235.3" y="367" width="58.6" height="1" fill="url(#q46)"/>
<rect x="1234.3" y="368" width="59.8" height="1" fill="url(#q47)"/>
<rect x="1233.3" y="369" width="60.9" height="1" fill="url(#q48)"/>
<rect x="1232.3" y="370" width="62.0" height="1" fill="url(#q49)"/>
<rect x="1231.3" y="371" width="63.1" height="1" fill="url(#q50)"/>
<rect x="1230.3" y="372" width="64.2" height="1" fill="url(#q51)"/>
<rect x="1229.3" y="373" width="65.3" height="1" fill="url(#q52)"/>
<rect x="1228.3" y="374" width="66.3" height="1" fill="url(#q53)"/>
<rect x="1227.3" y="375" width="67.4" height="1" fill="url(#q54)"/>
<rect x="1226.3" y="376" width="68.5" height="1" fill="url(#q55)"/>
<rect x="1225.3" y="377" width="69.6" height="1" fill="url(#q56)"/>
<rect x="1224.3" y="378" width="70.7" height="1" fill="url(#q57)"/>
<rect x="1223.3" y="379" width="71.7" height="1" fill="url(#q58)"/>
<rect x="1222.3" y="380" width="72.8" height="1" fill="url(#q59)"/>
<rect x="1221.3" y="381" width="73.9" height="1" fill="url(#q60)"/>
<rect x="1220.3" y="382" width="74.9" height="1" fill="url(#q61)"/>
<rect x="1219.3" y="383" width="76.0" height="1" fill="url(#q62)"/>
<rect x="1218.3" y="384" width="77.1" height="1" fill="url(#q63)"/>
<rect x="1217.3" y="385" width="78.1" height="1" fill="url(#q64)"/>
<rect x="1216.3" y="386" width="79.2" height="1" fill="url(#q65)"/>
<rect x="1215.3" y="387" width="80.2" height="1" fill="url(#q66)"/>
<rect x="1214.3" y="388" width="81.3" height="1" fill="url(#q67)"/>
<rect x="1213.3" y="389" width="82.3" height="1" fill="url(#q68)"/>
<rect x="1212.3" y="390" width="83.3" height="1" fill="url(#q69)"/>
<rect x="1211.3" y="391" width="84.4" height="1" fill="url(#q70)"/>
<rect x="1210.3" y="392" width="85.4" height="1" fill="url(#q71)"/>
<rect x="1209.3" y="393" width="86.4" height="1" fill="url(#q72)"/>
<rect x="1208.3" y="394" width="87.5" height="1" fill="url(#q73)"/>
<rect x="1207.3" y="395" width="88.5" height="1" fill="url(#q74)"/>
<rect x="1206.3" y="396" width="89.5" height="1" fill="url(#q75)"/>
<rect x="1205.3" y="397" width="90.5" height="1" fill="url(#q76)"/>
<rect x="1204.3" y="398" width="91.5" height="1" fill="url(#q77)"/>
<rect x="1203.3" y="399" width="92.6" height="1" fill="url(#q78)"/>
<rect x="1202.3" y="400" width="93.6" height="1" fill="url(#q79)"/>
<rect x="1201.3" y="401" width="94.6" height="1" fill="url(#q80)"/>
<rect x="1200.7" y="402" width="95.2" height="1" fill="url(#q81)"/>
<rect x="1200.7" y="403" width="95.2" height="1" fill="url(#q82)"/>
</g>
<path d="M1202,402.3 L1283.62,320.9" fill="none" stroke="#111" stroke-width="1"/>
<path d="M1283.62,320.9 A315.4,315.4 0 0 1 1294.37,402.3" fill="none" stroke="#222" stroke-width="0.9" stroke-dasharray="3 1"/>
<path d="M1202,402.5 L1294.4,402.5" fill="none" stroke="#444" stroke-width="0.8"/>
<g clip-path="url(#lblclip)">
<text x="1273.2" y="316.5" font-size="8.2" textLength="21" lengthAdjust="spacing">111</text>
<text x="1189.2" y="414.5" font-size="8.2" textLength="23" lengthAdjust="spacing">001</text>
<text x="1283.6" y="414.5" font-size="8.2" textLength="23" lengthAdjust="spacing">101</text>
</g>
</svg>
</body>
</html>
